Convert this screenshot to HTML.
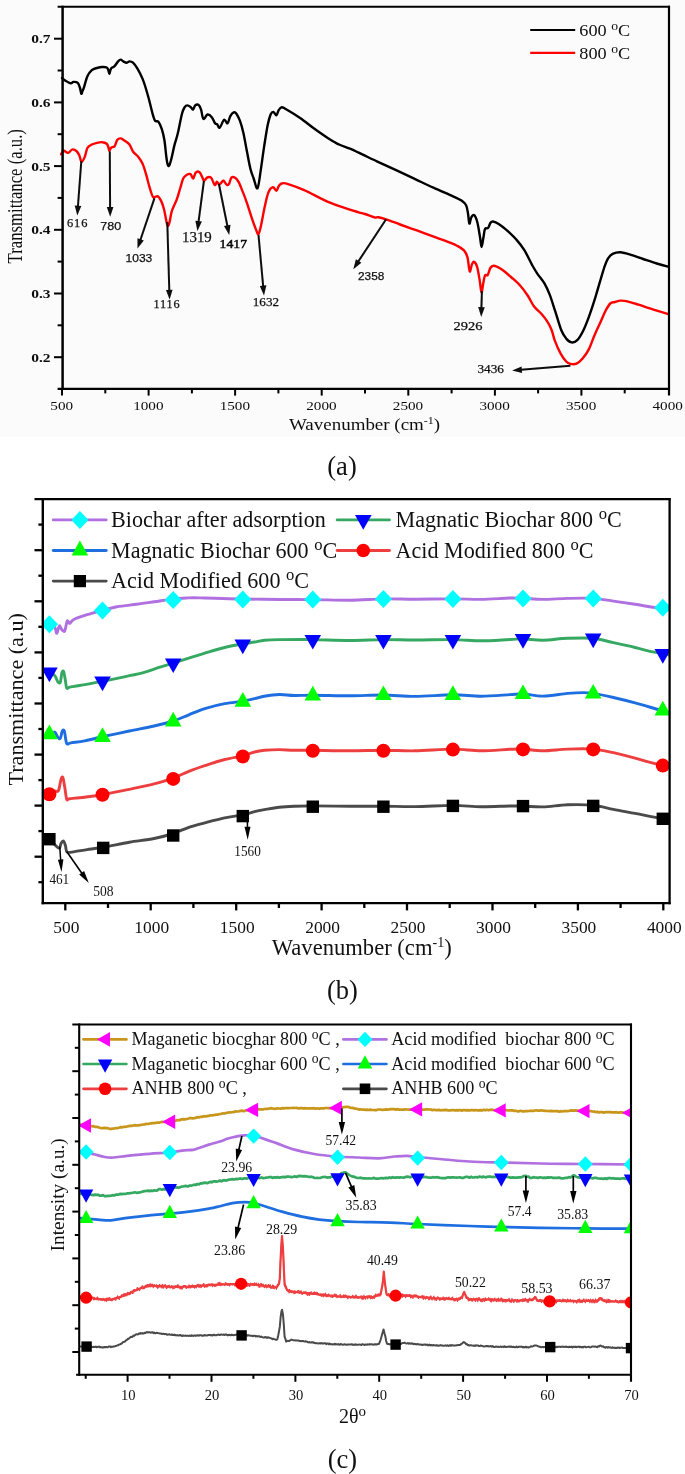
<!DOCTYPE html>
<html lang="en"><head><meta charset="utf-8"><title>FTIR and XRD spectra</title>
<style>html,body{margin:0;padding:0;background:#fff}body{width:685px;height:1474px;overflow:hidden;position:relative}svg{display:block;position:absolute;left:0;top:0}text{white-space:pre}</style>
</head><body>
<svg width="685" height="1474" viewBox="0 0 685 1474">
<rect x="0" y="0" width="685" height="1474" fill="#ffffff"/>
<g id="chart-a">
<rect x="0" y="0" width="685" height="437" fill="#fbfbfb"/>
<g filter="url(#blurA)">
<defs><filter id="blurA" x="-5%" y="-5%" width="110%" height="110%"><feGaussianBlur stdDeviation="0.42"/></filter></defs>
<path d="M62 78C62.6 78.5 64 79.8 65.5 80.7C67 81.6 69.5 83.1 70.8 83.3C72.1 83.5 72.2 82 73.4 81.9C74.6 81.8 76.7 81.9 77.8 82.9C78.9 83.9 79.4 86.2 80 88C80.6 89.8 80.9 93.3 81.3 93.8C81.7 94.3 82.1 92 82.5 91C82.9 90 83.1 90.2 83.9 87.7C84.7 85.2 86.1 79.2 87.4 76.3C88.7 73.4 90.2 71.5 91.8 70.1C93.4 68.7 95.2 68.5 97 68C98.8 67.5 100.7 67.1 102.3 67C103.9 66.9 105.7 67 106.7 67.5C107.7 68 107.9 69 108.3 70C108.7 71 109 73.6 109.3 73.7C109.6 73.8 109.9 71.5 110.3 70.5C110.7 69.5 110.7 68.7 111.4 68C112.1 67.3 113.5 67.2 114.6 66.1C115.7 65 117.1 62.5 118.1 61.4C119.1 60.3 119.8 59.6 120.7 59.6C121.6 59.6 122.3 60.9 123.3 61.4C124.3 61.9 125.5 62.8 126.5 62.8C127.5 62.8 128.4 61.4 129.5 61.4C130.6 61.4 131.7 61.4 133 62.6C134.3 63.8 135.7 65.7 137.3 68.4C138.9 71.1 140.8 74.4 142.6 78.9C144.4 83.4 146.2 89.4 147.9 95.5C149.7 101.6 151.9 111.5 153.1 115.7C154.3 120 154.3 120 155.2 121C156.1 122 157.3 120.4 158.4 121.8C159.5 123.2 160.9 126.2 161.9 129.4C162.9 132.6 163.8 136.3 164.5 140.8C165.2 145.3 165.8 152.7 166.3 156.6C166.8 160.5 167.2 163 167.7 164.5C168.2 166 168.7 166.5 169.3 165.5C169.9 164.5 170.7 161.5 171.5 158.3C172.3 155.1 173.2 150.2 174.2 146.1C175.2 142 176.4 139.2 177.7 133.8C179 128.4 180.8 118.1 182 113.7C183.2 109.3 183.8 108.6 184.7 107.2C185.6 105.8 186.3 105.4 187.3 105.4C188.3 105.4 189.8 106.5 190.8 107.2C191.8 107.9 192.4 109.9 193.1 109.6C193.8 109.3 194.3 106.2 195.2 105.4C196.1 104.6 197.7 104.2 198.7 104.9C199.7 105.6 200.2 107 201 109.3C201.8 111.6 202.3 118 203.4 118.9C204.5 119.8 206.1 114.8 207.5 114.5C208.9 114.2 210.6 115.7 211.8 117.2C213.1 118.7 214.1 122.1 215 123.3C215.9 124.5 216.3 123.5 217.1 124.2C217.9 124.9 218.5 128.4 219.7 127.7C220.9 127 222.8 120.5 224.1 119.8C225.4 119.1 226.6 123.9 227.6 123.3C228.6 122.7 229.2 118.1 230.2 116.3C231.2 114.5 232.7 112.8 233.7 112.4C234.7 112 235.4 112.3 236.4 113.7C237.4 115.1 238.7 117.5 239.9 120.7C241.1 123.9 242.2 127.8 243.4 132.9C244.6 138 245.7 145.3 246.9 151.3C248.1 157.3 249.3 164.4 250.4 168.8C251.5 173.2 252.3 174.8 253.5 178C254.7 181.2 256.3 189.5 257.5 188.3C258.7 187.1 259.6 177.6 260.7 170.6C261.8 163.6 263 153.7 264.2 146.1C265.4 138.5 266.6 130.3 267.7 125C268.8 119.7 269.7 116.7 270.6 114.5C271.6 112.3 272.4 111.8 273.4 111.9C274.4 112.1 275.5 115.7 276.4 115.4C277.3 115.1 277.8 111.5 278.7 110.1C279.6 108.7 280.5 107.3 281.7 107.2C282.9 107.1 283 107.5 286.1 109.3C289.2 111.1 295.4 114.8 300.1 118C304.8 121.2 309.4 125.1 314.1 128.5C318.8 131.9 324 135.6 328.1 138.2C332.2 140.8 335 142.6 338.6 144.3C342.2 146.1 346.6 147.3 350 148.7C353.4 150.1 354.1 150.5 358.7 152.7C363.3 154.8 371.2 158.7 377.4 161.6C383.6 164.5 389.9 167.3 396.1 170.2C402.3 173.1 408.5 176 414.7 178.9C420.9 181.8 427.2 184.9 433.4 187.7C439.6 190.5 447.4 193.8 452.1 195.9C456.8 198.1 459.2 199 461.5 200.6C463.8 202.2 465 203.2 466.1 205.3C467.2 207.4 467.4 210.4 468 213.4C468.6 216.4 468.8 222.9 469.4 223.6C469.9 224.3 470.5 218.8 471.3 217.4C472.1 216 473.3 214.3 474.3 215.2C475.3 216.1 476.6 219.4 477.5 223C478.4 226.6 479.3 233 480 237C480.7 241 481 247.1 481.6 247.1C482.2 247.1 482.9 240 483.5 237C484.1 234 484.2 230.5 485 229C485.8 227.5 487.1 229 488 228C488.9 227 489.7 223.9 490.5 222.8C491.3 221.7 491.6 221.3 493 221.5C494.4 221.7 496.6 222.6 499.1 224.2C501.6 225.8 504.9 228.6 507.8 231.2C510.7 233.8 513.8 236.7 516.6 239.9C519.4 243.1 521.9 246.2 524.5 250.4C527.1 254.6 530.1 261.4 532.3 265.3C534.5 269.2 535.5 271 537.6 274.1C539.7 277.2 542.6 280.2 544.6 283.7C546.6 287.2 548.1 290.6 549.9 295.1C551.6 299.6 553.2 305.1 555.1 310.9C557 316.7 559.4 325.4 561.2 330C563.1 334.6 564.5 336.5 566.2 338.6C568 340.7 569.8 342.2 571.7 342.4C573.6 342.6 575.6 341.8 577.5 339.8C579.4 337.9 581.3 334.5 583.2 330.7C585.1 326.9 586.9 322.2 588.8 317.1C590.7 312 592.6 306.2 594.5 300.2C596.4 294.2 598.5 286.6 600.2 280.9C601.9 275.2 603.4 270 604.7 266.2C606 262.4 606.8 260.4 608.1 258.3C609.4 256.2 610.5 254.8 612.6 253.8C614.7 252.8 617.7 252.1 620.5 252.2C623.3 252.3 625.8 253.3 629.6 254.4C633.4 255.5 638.6 257.5 643.1 259C647.6 260.5 652.6 262.2 656.7 263.5C660.9 264.8 666.1 266.2 668 266.7" fill="none" stroke="#050505" stroke-width="2.4" stroke-linejoin="round" stroke-linecap="round" />
<path d="M61.1 154.2C61.5 153.6 62.6 150.9 63.8 150.7C65 150.5 66.6 153.1 68.1 152.9C69.5 152.7 71 149.6 72.5 149.4C74 149.2 75.7 150.4 76.9 151.5C78.1 152.6 78.7 154.2 79.5 155.9C80.3 157.7 80.7 161.8 81.6 162C82.5 162.2 83.8 159.1 84.8 156.8C85.8 154.5 86.2 150.1 87.4 148C88.6 145.9 90.2 145.4 91.8 144.5C93.4 143.6 95.2 143.2 97 142.8C98.8 142.4 100.7 142 102.3 142.2C103.9 142.3 105.7 142.9 106.7 143.7C107.7 144.5 107.9 145.8 108.3 147C108.7 148.2 108.9 150.4 109.3 150.7C109.7 150.9 110.1 149.1 110.5 148.5C110.9 147.9 111.2 147.6 111.9 147.2C112.6 146.8 113.7 147.5 114.6 146.3C115.5 145.1 116.2 141.4 117.2 140.1C118.2 138.8 119.4 138.2 120.7 138.4C122 138.6 123.6 140 125.1 141C126.6 142 128.2 142.8 129.5 144.5C130.8 146.2 131.6 149.4 133 151.5C134.4 153.6 136.6 154.8 138.2 156.8C139.8 158.9 141.3 160.9 142.6 163.8C143.9 166.7 144.9 170.4 146.1 174.3C147.3 178.2 148.4 183.6 149.6 187.4C150.8 191.2 151.8 195.6 153.1 197.1C154.4 198.6 156.2 195.6 157.5 196.2C158.8 196.8 159.9 198.4 161 200.6C162.1 202.8 163.1 206 164 209.3C164.9 212.7 165.7 217.9 166.3 220.7C166.9 223.4 167.3 225.5 167.8 225.8C168.3 226.1 168.8 224.9 169.5 222.4C170.2 219.9 170.6 214.9 171.8 211.1C173 207.3 175.3 203.4 176.7 199.6C178.1 195.8 179.2 191.5 180.3 188C181.4 184.5 182.1 180.7 183.2 178.5C184.3 176.3 185.7 175.5 186.9 174.8C188.1 174.1 189.4 173.5 190.5 174.1C191.6 174.7 192.3 178.8 193.2 178.5C194.1 178.2 194.7 173.7 195.7 172.6C196.7 171.5 198.2 171.2 199.3 171.9C200.4 172.6 201.4 175.5 202.2 177C203 178.5 203.2 180.6 204.1 180.7C204.9 180.8 206.2 177.9 207.3 177.4C208.5 176.9 209.9 176.7 211 177.7C212.1 178.7 213.2 182.4 213.9 183.6C214.6 184.8 214.9 185.3 215.4 185C215.9 184.7 216.2 181.9 216.8 181.8C217.4 181.7 218.3 184.1 219 184.3C219.7 184.5 220.5 183.4 221.2 182.8C221.9 182.2 222.4 180.3 223.4 180.7C224.4 181.1 226 184.5 227 185C228 185.5 228.5 184.8 229.2 183.6C229.9 182.4 230.4 178.7 231.4 177.7C232.4 176.7 233.9 177 235.1 177.7C236.3 178.4 237.5 179.9 238.7 182.1C239.9 184.3 241.1 187.5 242.4 190.9C243.8 194.3 245.3 198.2 246.8 202.6C248.3 207 250 212.7 251.5 217.2C253 221.7 254.8 226.8 256 229.6C257.2 232.4 257.6 234.9 258.5 234.1C259.4 233.3 260.2 229.2 261.2 224.7C262.2 220.2 263.4 212.7 264.6 207.3C265.8 201.9 267 195.8 268.4 192.4C269.8 189.1 271.6 187.5 272.9 187.2C274.2 186.9 275.4 191 276.4 190.7C277.4 190.4 278.1 186.8 279.1 185.5C280.1 184.2 280.9 183.3 282.6 183.2C284.4 183 286.1 183.5 289.6 184.6C293.1 185.7 298.4 187.6 303.6 189.9C308.9 192.2 316.7 196.5 321.1 198.6C325.5 200.7 325.6 200.9 330 202.6C334.4 204.3 342.7 207.2 347.5 208.8C352.3 210.4 355.8 211.4 358.7 212.3C361.6 213.2 362.3 213.1 365 214C367.7 214.9 372.5 217 374.7 217.5C376.9 218 376.3 216.9 378.2 217.2C380.1 217.5 382.5 218.1 386.1 219.3C389.8 220.5 394.9 222.6 400.1 224.5C405.4 226.4 411.8 228.6 417.6 230.7C423.4 232.8 429.7 235.1 435.1 237.1C440.5 239.1 446.4 241.2 450 242.6C453.6 244 454.7 244.4 457 245.7C459.3 247 462.2 248.5 464 250.4C465.8 252.3 466.7 254.6 467.5 257.4C468.3 260.2 468.5 264.8 468.9 267.1C469.3 269.5 469.6 271.9 470.1 271.5C470.6 271.1 471.2 266.1 471.9 264.5C472.6 262.9 473.3 261.4 474.2 261.8C475.1 262.2 476.3 263.9 477.2 267.1C478.1 270.3 479.1 276.9 479.8 281.1C480.5 285.3 480.9 292.2 481.5 292.5C482.1 292.8 482.7 285.7 483.3 282.9C483.9 280.1 484.3 276.8 485 275.5C485.7 274.2 486.8 276.2 487.7 275C488.6 273.8 489.3 269.6 490.3 268C491.3 266.4 492.1 265.6 493.8 265.7C495.6 265.8 498.2 267.1 500.8 268.8C503.4 270.5 506.4 273 509.6 275.8C512.8 278.6 517 282.1 520.1 285.5C523.2 288.9 525.7 292.5 528 296C530.3 299.5 531.9 303.6 534.1 306.5C536.3 309.4 538.9 311 541.1 313.5C543.3 316 545.5 318.6 547.2 321.4C549 324.1 550.3 326.8 551.6 330C552.9 333.2 553.4 337 554.9 340.9C556.4 344.8 558.6 349.9 560.5 353.3C562.4 356.7 564.6 359.7 566.2 361.5C567.9 363.3 568.7 363.5 570.4 363.9C572.1 364.3 574.5 364.6 576.5 363.7C578.5 362.8 580.6 361 582.6 358.6C584.6 356.2 586.8 353.3 588.8 349.4C590.8 345.5 592.6 339.6 594.5 335.2C596.4 330.8 598.3 326.9 600.2 322.8C602.1 318.7 604.1 313.5 605.8 310.3C607.5 307.1 608.8 304.9 610.3 303.5C611.8 302.1 613.2 302.5 614.9 302C616.6 301.5 618.4 300.7 620.5 300.6C622.6 300.5 624.3 300.6 627.3 301.3C630.3 302 634.5 303.4 638.6 304.7C642.8 306 647.3 307.6 652.2 309.2C657.1 310.8 665.4 313.2 668 314" fill="none" stroke="#ff0000" stroke-width="2.4" stroke-linejoin="round" stroke-linecap="round" />
<line x1="81.3" y1="161.2" x2="77.9" y2="206.8" stroke="#0a0a0a" stroke-width="2.0" stroke-linecap="butt"/>
<polygon points="77.3,215.6 74.7,205.6 81.3,206.1" fill="#0a0a0a"/>
<line x1="109.8" y1="151.5" x2="110.1" y2="208" stroke="#0a0a0a" stroke-width="2.0" stroke-linecap="butt"/>
<polygon points="110.2,216.8 106.8,207 113.4,207" fill="#0a0a0a"/>
<line x1="154.4" y1="198.4" x2="140.3" y2="240.3" stroke="#0a0a0a" stroke-width="2.0" stroke-linecap="butt"/>
<polygon points="137.5,248.6 137.5,238.3 143.8,240.4" fill="#0a0a0a"/>
<line x1="167.3" y1="222" x2="169.3" y2="290.8" stroke="#0a0a0a" stroke-width="2.0" stroke-linecap="butt"/>
<polygon points="169.6,299.6 166,289.9 172.6,289.7" fill="#0a0a0a"/>
<line x1="203.9" y1="181" x2="198.5" y2="222.2" stroke="#0a0a0a" stroke-width="2.0" stroke-linecap="butt"/>
<polygon points="197.4,230.9 195.4,220.8 201.9,221.6" fill="#0a0a0a"/>
<line x1="218.9" y1="184" x2="227.5" y2="226.5" stroke="#0a0a0a" stroke-width="2.0" stroke-linecap="butt"/>
<polygon points="229.2,235.1 224,226.1 230.5,224.8" fill="#0a0a0a"/>
<line x1="258.5" y1="235" x2="263.2" y2="286.6" stroke="#0a0a0a" stroke-width="2.0" stroke-linecap="butt"/>
<polygon points="264,295.4 259.8,285.9 266.4,285.3" fill="#0a0a0a"/>
<line x1="386.1" y1="219.3" x2="358.1" y2="261.8" stroke="#0a0a0a" stroke-width="2.0" stroke-linecap="butt"/>
<polygon points="353.3,269.2 355.9,259.2 361.4,262.8" fill="#0a0a0a"/>
<line x1="481.9" y1="291" x2="481.4" y2="308.2" stroke="#0a0a0a" stroke-width="2.0" stroke-linecap="butt"/>
<polygon points="481.2,317 478.2,307.1 484.8,307.3" fill="#0a0a0a"/>
<line x1="570.4" y1="365.8" x2="520.9" y2="369.8" stroke="#0a0a0a" stroke-width="2.0" stroke-linecap="butt"/>
<polygon points="512.1,370.5 521.6,366.4 522.1,373" fill="#0a0a0a"/>
<line x1="57.6" y1="6.7" x2="670" y2="6.7" stroke="#000" stroke-width="2.1" stroke-linecap="butt"/>
<line x1="57.6" y1="388.9" x2="670" y2="388.9" stroke="#000" stroke-width="2.1" stroke-linecap="butt"/>
<line x1="62.6" y1="5.7" x2="62.6" y2="389.9" stroke="#000" stroke-width="2.5" stroke-linecap="butt"/>
<line x1="669" y1="5.7" x2="669" y2="395.6" stroke="#000" stroke-width="2.2" stroke-linecap="butt"/>
<line x1="54" y1="38.7" x2="62.6" y2="38.7" stroke="#000" stroke-width="2.0" stroke-linecap="butt"/>
<text transform="translate(50.5 43.1) scale(1.18 1)" font-family='"Liberation Serif", serif' font-size="13.1" font-weight="bold" text-anchor="end" fill="#111" >0.7</text>
<line x1="54" y1="102.4" x2="62.6" y2="102.4" stroke="#000" stroke-width="2.0" stroke-linecap="butt"/>
<text transform="translate(50.5 106.8) scale(1.18 1)" font-family='"Liberation Serif", serif' font-size="13.1" font-weight="bold" text-anchor="end" fill="#111" >0.6</text>
<line x1="54" y1="166.1" x2="62.6" y2="166.1" stroke="#000" stroke-width="2.0" stroke-linecap="butt"/>
<text transform="translate(50.5 170.5) scale(1.18 1)" font-family='"Liberation Serif", serif' font-size="13.1" font-weight="bold" text-anchor="end" fill="#111" >0.5</text>
<line x1="54" y1="229.8" x2="62.6" y2="229.8" stroke="#000" stroke-width="2.0" stroke-linecap="butt"/>
<text transform="translate(50.5 234.2) scale(1.18 1)" font-family='"Liberation Serif", serif' font-size="13.1" font-weight="bold" text-anchor="end" fill="#111" >0.4</text>
<line x1="54" y1="293.5" x2="62.6" y2="293.5" stroke="#000" stroke-width="2.0" stroke-linecap="butt"/>
<text transform="translate(50.5 297.9) scale(1.18 1)" font-family='"Liberation Serif", serif' font-size="13.1" font-weight="bold" text-anchor="end" fill="#111" >0.3</text>
<line x1="54" y1="357.2" x2="62.6" y2="357.2" stroke="#000" stroke-width="2.0" stroke-linecap="butt"/>
<text transform="translate(50.5 361.6) scale(1.18 1)" font-family='"Liberation Serif", serif' font-size="13.1" font-weight="bold" text-anchor="end" fill="#111" >0.2</text>
<line x1="57.6" y1="70.5" x2="62.6" y2="70.5" stroke="#000" stroke-width="2.0" stroke-linecap="butt"/>
<line x1="57.6" y1="134.2" x2="62.6" y2="134.2" stroke="#000" stroke-width="2.0" stroke-linecap="butt"/>
<line x1="57.6" y1="197.9" x2="62.6" y2="197.9" stroke="#000" stroke-width="2.0" stroke-linecap="butt"/>
<line x1="57.6" y1="261.6" x2="62.6" y2="261.6" stroke="#000" stroke-width="2.0" stroke-linecap="butt"/>
<line x1="57.6" y1="325.3" x2="62.6" y2="325.3" stroke="#000" stroke-width="2.0" stroke-linecap="butt"/>
<line x1="62" y1="388.9" x2="62" y2="395.6" stroke="#000" stroke-width="2.0" stroke-linecap="butt"/>
<text transform="translate(61.7 410.4) scale(1.15 1)" font-family='"Liberation Serif", serif' font-size="13.2" font-weight="normal" text-anchor="middle" fill="#111" >500</text>
<line x1="148.6" y1="388.9" x2="148.6" y2="395.6" stroke="#000" stroke-width="2.0" stroke-linecap="butt"/>
<text transform="translate(148.3 410.4) scale(1.15 1)" font-family='"Liberation Serif", serif' font-size="13.2" font-weight="normal" text-anchor="middle" fill="#111" >1000</text>
<line x1="235.1" y1="388.9" x2="235.1" y2="395.6" stroke="#000" stroke-width="2.0" stroke-linecap="butt"/>
<text transform="translate(234.8 410.4) scale(1.15 1)" font-family='"Liberation Serif", serif' font-size="13.2" font-weight="normal" text-anchor="middle" fill="#111" >1500</text>
<line x1="321.7" y1="388.9" x2="321.7" y2="395.6" stroke="#000" stroke-width="2.0" stroke-linecap="butt"/>
<text transform="translate(321.4 410.4) scale(1.15 1)" font-family='"Liberation Serif", serif' font-size="13.2" font-weight="normal" text-anchor="middle" fill="#111" >2000</text>
<line x1="408.3" y1="388.9" x2="408.3" y2="395.6" stroke="#000" stroke-width="2.0" stroke-linecap="butt"/>
<text transform="translate(408 410.4) scale(1.15 1)" font-family='"Liberation Serif", serif' font-size="13.2" font-weight="normal" text-anchor="middle" fill="#111" >2500</text>
<line x1="494.9" y1="388.9" x2="494.9" y2="395.6" stroke="#000" stroke-width="2.0" stroke-linecap="butt"/>
<text transform="translate(494.6 410.4) scale(1.15 1)" font-family='"Liberation Serif", serif' font-size="13.2" font-weight="normal" text-anchor="middle" fill="#111" >3000</text>
<line x1="581.4" y1="388.9" x2="581.4" y2="395.6" stroke="#000" stroke-width="2.0" stroke-linecap="butt"/>
<text transform="translate(581.1 410.4) scale(1.15 1)" font-family='"Liberation Serif", serif' font-size="13.2" font-weight="normal" text-anchor="middle" fill="#111" >3500</text>
<text transform="translate(667.7 410.4) scale(1.15 1)" font-family='"Liberation Serif", serif' font-size="13.2" font-weight="normal" text-anchor="middle" fill="#111" >4000</text>
<line x1="105.3" y1="388.9" x2="105.3" y2="393.4" stroke="#000" stroke-width="2.0" stroke-linecap="butt"/>
<line x1="191.9" y1="388.9" x2="191.9" y2="393.4" stroke="#000" stroke-width="2.0" stroke-linecap="butt"/>
<line x1="278.4" y1="388.9" x2="278.4" y2="393.4" stroke="#000" stroke-width="2.0" stroke-linecap="butt"/>
<line x1="365" y1="388.9" x2="365" y2="393.4" stroke="#000" stroke-width="2.0" stroke-linecap="butt"/>
<line x1="451.6" y1="388.9" x2="451.6" y2="393.4" stroke="#000" stroke-width="2.0" stroke-linecap="butt"/>
<line x1="538.1" y1="388.9" x2="538.1" y2="393.4" stroke="#000" stroke-width="2.0" stroke-linecap="butt"/>
<line x1="624.7" y1="388.9" x2="624.7" y2="393.4" stroke="#000" stroke-width="2.0" stroke-linecap="butt"/>
<text transform="translate(22.2 263.4) scale(1.2 1) rotate(-90)" font-family='"Liberation Serif", serif' font-size="16.7" font-weight="normal" text-anchor="start" fill="#111" >Transmittance (a.u.)</text>
<text transform="translate(289 429.5)" font-family='"Liberation Serif", serif' font-size="16.8" font-weight="normal" text-anchor="start" fill="#111" textLength="151" lengthAdjust="spacingAndGlyphs" >Wavenumber (cm<tspan dy="-5.5" font-size="10.5">-1</tspan><tspan dy="5.5">)</tspan></text>
<line x1="530.2" y1="30" x2="575.2" y2="30" stroke="#000" stroke-width="2.2" stroke-linecap="butt"/>
<line x1="530.2" y1="52.9" x2="575.2" y2="52.9" stroke="#ff0000" stroke-width="2.2" stroke-linecap="butt"/>
<text transform="translate(579.3 36.2)" font-family='"Liberation Serif", serif' font-size="16.8" font-weight="normal" text-anchor="start" fill="#111" textLength="51" lengthAdjust="spacingAndGlyphs" >600 <tspan dy="-5.9" font-size="12.6">o</tspan><tspan dy="5.9">C</tspan></text>
<text transform="translate(579.3 59)" font-family='"Liberation Serif", serif' font-size="16.8" font-weight="normal" text-anchor="start" fill="#111" textLength="51" lengthAdjust="spacingAndGlyphs" >800 <tspan dy="-5.9" font-size="12.6">o</tspan><tspan dy="5.9">C</tspan></text>
<text transform="translate(66.9 227.2)" font-family='"Liberation Serif", serif' font-size="12.4" font-weight="normal" text-anchor="start" fill="#111" textLength="20.5" lengthAdjust="spacing" stroke="#111" stroke-width="0.25">616</text>
<text transform="translate(100.2 230.4)" font-family='"Liberation Sans", sans-serif' font-size="11.4" font-weight="normal" text-anchor="start" fill="#111" textLength="21" lengthAdjust="spacingAndGlyphs" stroke="#111" stroke-width="0.25">780</text>
<text transform="translate(125.5 261.9)" font-family='"Liberation Sans", sans-serif' font-size="11.4" font-weight="normal" text-anchor="start" fill="#111" textLength="26.8" lengthAdjust="spacingAndGlyphs" stroke="#111" stroke-width="0.25">1033</text>
<text transform="translate(153.5 307.8)" font-family='"Liberation Serif", serif' font-size="12.2" font-weight="normal" text-anchor="start" fill="#111" textLength="26.1" lengthAdjust="spacing" stroke="#111" stroke-width="0.25">1116</text>
<text transform="translate(182 242.2)" font-family='"Liberation Serif", serif' font-size="14.2" font-weight="normal" text-anchor="start" fill="#111" textLength="29.8" lengthAdjust="spacingAndGlyphs" stroke="#111" stroke-width="0.25">1319</text>
<text transform="translate(219.6 248.3)" font-family='"Liberation Serif", serif' font-size="12.8" font-weight="normal" text-anchor="start" fill="#111" textLength="27.4" lengthAdjust="spacingAndGlyphs" stroke="#111" stroke-width="0.55">1417</text>
<text transform="translate(252.8 306.2)" font-family='"Liberation Serif", serif' font-size="13" font-weight="normal" text-anchor="start" fill="#111" textLength="26.2" lengthAdjust="spacingAndGlyphs" stroke="#111" stroke-width="0.25">1632</text>
<text transform="translate(358 280.2)" font-family='"Liberation Sans", sans-serif' font-size="11.2" font-weight="normal" text-anchor="start" fill="#111" textLength="26.3" lengthAdjust="spacingAndGlyphs" stroke="#111" stroke-width="0.25">2358</text>
<text transform="translate(453.5 330.2)" font-family='"Liberation Serif", serif' font-size="12" font-weight="normal" text-anchor="start" fill="#111" textLength="28.9" lengthAdjust="spacingAndGlyphs" stroke="#111" stroke-width="0.25">2926</text>
<text transform="translate(477.4 373.3)" font-family='"Liberation Serif", serif' font-size="12" font-weight="normal" text-anchor="start" fill="#111" textLength="26.5" lengthAdjust="spacingAndGlyphs" stroke="#111" stroke-width="0.25">3436</text>
</g>
<text transform="translate(342 475.3)" font-family='"Liberation Serif", serif' font-size="26.5" font-weight="normal" text-anchor="middle" fill="#111" >(a)</text>
</g>
<g id="chart-b">
<defs><clipPath id="clipB"><rect x="42.8" y="499.1" width="626.8" height="403.9"/></clipPath></defs>
<g clip-path="url(#clipB)">
<path d="M49.4 839.2C50.3 840.1 53.1 843.2 54.8 844.7C56.4 846.2 58.3 848.6 59.3 848.4C60.3 848.2 60.3 844.6 61 843.4C61.7 842.2 62.8 840.6 63.5 841C64.2 841.4 64.9 844 65.5 845.9C66.1 847.8 65.7 851.1 67.2 852.1C68.7 853.1 71.4 852 74.7 851.6C78 851.2 82.3 850.3 87.1 849.6C91.8 848.9 96.2 848.4 103.2 847.2C110.2 846 120.8 843.7 129.3 842.2C137.8 840.8 146.8 840 154.1 838.5C161.4 837 167.4 835.4 173.2 833.5C179 831.6 183.5 829.1 188.8 827.3C194.1 825.5 198.8 824.4 204.8 822.8C210.8 821.2 218.4 819.1 224.7 817.8C231 816.5 237.8 815.8 242.8 814.8C247.8 813.8 250.9 812.5 254.5 811.6C258.1 810.7 260.3 810.3 264.4 809.6C268.5 808.9 274.3 807.8 279.3 807.2C284.3 806.6 288.6 806.4 294.2 806.2C299.8 806 303.5 805.9 312.8 805.9C322.1 805.9 338.2 806.2 350 806.2C361.8 806.2 372.6 806.1 383.4 806.2C394.2 806.3 403.4 806.7 415 806.6C426.6 806.5 441.9 805.4 452.9 805.4C463.9 805.4 471.5 806.6 481 806.7C490.5 806.8 503 806.1 510 806C517 805.9 517.5 806 523 806.1C528.5 806.2 535.6 807.1 543 806.9C550.4 806.7 559.1 805.1 567.5 804.8C575.9 804.5 585.6 804.5 593.2 805.3C600.9 806.1 606.4 808 613.4 809.4C620.4 810.8 628.7 812.2 635 813.4C641.3 814.6 646.6 815.8 651.2 816.7C655.8 817.6 659.8 818.2 662.8 818.8C665.8 819.3 668 819.8 669 820" fill="none" stroke="#4a4a4a" stroke-width="2.9" stroke-linejoin="round" stroke-linecap="round" />
<rect x="43.2" y="833" width="12.4" height="12.4" fill="#000"/>
<rect x="97" y="841.7" width="12.4" height="12.4" fill="#000"/>
<rect x="167" y="829.3" width="12.4" height="12.4" fill="#000"/>
<rect x="236.6" y="809.9" width="12.4" height="12.4" fill="#000"/>
<rect x="306.6" y="800.5" width="12.4" height="12.4" fill="#000"/>
<rect x="377.2" y="800.5" width="12.4" height="12.4" fill="#000"/>
<rect x="446.7" y="799.7" width="12.4" height="12.4" fill="#000"/>
<rect x="516.8" y="799.9" width="12.4" height="12.4" fill="#000"/>
<rect x="587" y="799.7" width="12.4" height="12.4" fill="#000"/>
<rect x="656.6" y="812.6" width="12.4" height="12.4" fill="#000"/>
<path d="M49.4 794.2C50.3 793.7 53.3 791.9 54.8 791.3C56.3 790.7 57.5 792.5 58.5 790.5C59.5 788.5 60.3 781.6 61 779.4C61.7 777.2 62.2 776.2 62.8 777.4C63.4 778.6 64 783.2 64.7 786.8C65.4 790.4 65.9 797.2 66.7 799.2C67.5 801.2 66.7 799 69.7 798.7C72.7 798.4 79.1 797.9 84.6 797.2C90.1 796.5 95 796 102.5 794.7C110 793.4 120.7 791.1 129.3 789.3C137.9 787.5 146.8 785.7 154.1 783.8C161.4 781.9 167.4 780.2 173.2 778.1C179 776 183.5 773.5 188.8 771.4C194.1 769.3 198.8 767.7 204.8 765.7C210.8 763.7 218.4 761.1 224.7 759.5C231 757.9 237.8 757 242.8 755.8C247.8 754.5 250.9 752.9 254.5 752C258.1 751.1 260.3 750.7 264.4 750.3C268.5 749.9 274.3 749.6 279.3 749.6C284.3 749.6 288.6 750.2 294.2 750.3C299.8 750.4 303.5 750.2 312.8 750.3C322.1 750.4 338.2 750.8 350 750.8C361.8 750.8 372.6 750.3 383.4 750.3C394.2 750.3 403.4 751 415 750.8C426.6 750.6 441.9 749.1 452.9 749.1C463.9 749.1 471.5 750.8 481 750.8C490.5 750.8 503 749.6 510 749.3C517 749 517.5 748.9 523 749.1C528.5 749.4 535.6 750.8 543 750.8C550.4 750.8 559.1 749.4 567.5 749.1C575.9 748.8 585.6 748.5 593.2 749.1C600.9 749.7 606.4 751.2 613.4 752.7C620.4 754.2 628.7 756.4 635 758.1C641.3 759.8 646.6 761.5 651.2 762.7C655.8 763.9 659.8 764.7 662.8 765.4C665.8 766.1 668 766.7 669 767" fill="none" stroke="#ee3f40" stroke-width="2.9" stroke-linejoin="round" stroke-linecap="round" />
<circle cx="49.4" cy="794.2" r="7" fill="#ff0000"/>
<circle cx="102.5" cy="794.7" r="7" fill="#ff0000"/>
<circle cx="173.2" cy="778.9" r="7" fill="#ff0000"/>
<circle cx="242.8" cy="756.5" r="7" fill="#ff0000"/>
<circle cx="312.8" cy="750.8" r="7" fill="#ff0000"/>
<circle cx="383.4" cy="750.8" r="7" fill="#ff0000"/>
<circle cx="452.9" cy="749.6" r="7" fill="#ff0000"/>
<circle cx="523" cy="749.4" r="7" fill="#ff0000"/>
<circle cx="593.2" cy="749.4" r="7" fill="#ff0000"/>
<circle cx="662.8" cy="765.6" r="7" fill="#ff0000"/>
<path d="M49.4 734C50.3 733.7 53.4 731.7 54.8 732.2C56.2 732.7 56.9 736.2 57.8 737.2C58.7 738.2 59.5 739.4 60.3 738.4C61 737.4 61.6 732.2 62.3 731C63 729.8 63.7 729.4 64.3 731C64.9 732.6 65.5 738.7 66 740.9C66.5 743.1 66.4 743.8 67.2 744.1C68 744.4 68.1 743.4 71 742.9C73.9 742.4 79.3 741.9 84.6 740.9C89.8 739.9 95 738.4 102.5 736.7C110 735.1 120.7 732.8 129.3 731C137.9 729.2 146.8 727.7 154.1 726C161.4 724.3 167.4 722.9 173.2 721C179 719.1 183.5 716.9 188.8 714.8C194.1 712.7 198.8 710.5 204.8 708.6C210.8 706.8 218.4 704.9 224.7 703.7C231 702.5 237.8 702 242.8 701.2C247.8 700.4 250.9 699.5 254.5 698.7C258.1 697.9 260.3 696.9 264.4 696.2C268.5 695.5 274.3 694.6 279.3 694.5C284.3 694.4 288.6 695.4 294.2 695.5C299.8 695.6 303.5 695.2 312.8 695.2C322.1 695.2 338.2 695.8 350 695.8C361.8 695.8 372.6 694.9 383.4 695C394.2 695.1 403.4 696.4 415 696.4C426.6 696.4 441.9 694.8 452.9 694.8C463.9 694.8 471.5 696.2 481 696.2C490.5 696.2 503 695 510 694.6C517 694.2 517.5 693.8 523 694C528.5 694.2 535.6 696.2 543 696.1C550.4 696 560.7 694 567.5 693.4C574.3 692.8 579.4 692.6 583.7 692.6C588 692.6 588.2 692.6 593.2 693.4C598.2 694.2 606.4 695.9 613.4 697.5C620.4 699.1 628.7 701.2 635 702.9C641.3 704.6 646.6 706.1 651.2 707.5C655.8 708.9 659.8 710.1 662.8 711C665.8 711.9 668 712.7 669 713" fill="none" stroke="#1e6ee0" stroke-width="2.9" stroke-linejoin="round" stroke-linecap="round" />
<polygon points="49.4,724.6 57.7,739.2 41.1,739.2" fill="#00ff00"/>
<polygon points="102.5,727.3 110.8,741.9 94.2,741.9" fill="#00ff00"/>
<polygon points="173.2,711.8 181.5,726.4 164.9,726.4" fill="#00ff00"/>
<polygon points="242.8,692.1 251.1,706.7 234.5,706.7" fill="#00ff00"/>
<polygon points="312.8,685.8 321.1,700.4 304.5,700.4" fill="#00ff00"/>
<polygon points="383.4,685.5 391.7,700.1 375.1,700.1" fill="#00ff00"/>
<polygon points="452.9,685.3 461.2,699.9 444.6,699.9" fill="#00ff00"/>
<polygon points="523,684.5 531.3,699.1 514.7,699.1" fill="#00ff00"/>
<polygon points="593.2,683.9 601.5,698.5 584.9,698.5" fill="#00ff00"/>
<polygon points="662.8,700.8 671.1,715.4 654.5,715.4" fill="#00ff00"/>
<path d="M49.4 672C50.3 672.6 53.4 674 54.8 675.6C56.2 677.2 56.9 680.7 57.8 681.8C58.7 682.9 59.6 683.8 60.3 682.3C61 680.8 61.3 674.9 61.8 673.1C62.3 671.3 62.9 670.3 63.5 671.3C64.1 672.3 64.7 676.5 65.2 679.3C65.7 682.1 66 686.7 66.7 688C67.5 689.3 67.6 687.6 69.7 687.2C71.8 686.8 74.1 686.5 79.6 685.5C85.1 684.5 95 682.8 102.5 681.3C110 679.8 117.3 678.3 124.3 676.8C131.2 675.3 138.4 673.9 144.2 672.3C150 670.7 154.3 668.9 159.1 667.4C163.9 665.9 168.2 664.6 173.2 663.1C178.1 661.6 183.5 659.9 188.8 658.2C194.1 656.6 198.8 655 204.8 653.2C210.8 651.4 218.4 649 224.7 647.5C231 646 237.8 644.9 242.8 644C247.8 643.1 250.9 642.6 254.5 642C258.1 641.4 260.3 640.7 264.4 640.3C268.5 639.9 271.2 639.7 279.3 639.6C287.4 639.5 301 639.5 312.8 639.6C324.6 639.8 338.2 640.5 350 640.5C361.8 640.5 372.6 639.7 383.4 639.6C394.2 639.5 403.4 640 415 640C426.6 640 441.9 639.5 452.9 639.6C463.9 639.7 471.5 640.8 481 640.8C490.5 640.8 503 639.8 510 639.5C517 639.2 517.5 638.8 523 638.9C528.5 639 535.6 640.3 543 640.2C550.4 640.1 559.1 638.6 567.5 638.3C575.9 638 585.6 637.6 593.2 638.3C600.9 639 606.4 641.2 613.4 642.7C620.4 644.2 628.7 646 635 647.5C641.3 649 646.6 650.6 651.2 651.6C655.8 652.6 659.8 652.9 662.8 653.5C665.8 654.1 668 654.8 669 655" fill="none" stroke="#35a862" stroke-width="2.9" stroke-linejoin="round" stroke-linecap="round" />
<polygon points="49.4,682.2 57.7,667.6 41.1,667.6" fill="#0000ff"/>
<polygon points="102.5,691.2 110.8,676.6 94.2,676.6" fill="#0000ff"/>
<polygon points="173.2,673 181.5,658.4 164.9,658.4" fill="#0000ff"/>
<polygon points="242.8,654.2 251.1,639.6 234.5,639.6" fill="#0000ff"/>
<polygon points="312.8,649.6 321.1,635 304.5,635" fill="#0000ff"/>
<polygon points="383.4,649.5 391.7,634.9 375.1,634.9" fill="#0000ff"/>
<polygon points="452.9,649.5 461.2,634.9 444.6,634.9" fill="#0000ff"/>
<polygon points="523,648.7 531.3,634.1 514.7,634.1" fill="#0000ff"/>
<polygon points="593.2,648.2 601.5,633.6 584.9,633.6" fill="#0000ff"/>
<polygon points="662.8,663.7 671.1,649.1 654.5,649.1" fill="#0000ff"/>
<path d="M49.4 624.2C50.3 624.7 53.6 625.7 54.8 627.2C56 628.7 56 633.6 56.8 633.4C57.5 633.2 58.5 626.5 59.3 625.9C60.1 625.3 60.9 628.8 61.8 629.6C62.7 630.4 63.8 632.3 64.7 630.9C65.6 629.5 66.4 622.2 67.2 621C68 619.8 68.7 623.6 69.7 623.4C70.7 623.2 70.5 621.2 73.4 619.7C76.3 618.2 82.2 616.2 87.1 614.7C91.9 613.2 97.5 611.8 102.5 610.5C107.5 609.2 111.2 607.8 116.9 606.8C122.6 605.8 130.5 605.1 136.7 604.3C142.9 603.5 148 602.7 154.1 601.8C160.2 600.9 167.4 599.5 173.2 598.9C179 598.2 184.3 598.1 188.8 597.9C193.3 597.7 195.6 597.8 200 597.9C204.4 598 207.9 598 215 598.2C222.1 598.4 232 598.8 242.8 599C253.6 599.2 268.3 599.4 280 599.5C291.7 599.6 301.1 599.5 312.8 599.6C324.5 599.7 338.2 600.3 350 600.2C361.8 600.1 372.6 599.1 383.4 598.9C394.2 598.7 403.4 599.2 415 599.2C426.6 599.2 441.9 598.9 452.9 598.9C463.9 598.9 471.5 599.5 481 599.4C490.5 599.2 503 598.2 510 598C517 597.8 517.5 598.2 523 598.4C528.5 598.6 535.6 599.4 543 599.4C550.4 599.4 559.1 598.6 567.5 598.4C575.9 598.2 585.6 597.9 593.2 598.4C600.9 598.9 606.4 600.1 613.4 601.1C620.4 602.1 628.7 603.3 635 604.3C641.3 605.3 646.6 606.3 651.2 607C655.8 607.7 659.8 608 662.8 608.4C665.8 608.8 668 609.3 669 609.5" fill="none" stroke="#b070e0" stroke-width="2.9" stroke-linejoin="round" stroke-linecap="round" />
<polygon points="49.4,615.2 58,624.2 49.4,633.2 40.8,624.2" fill="#00ffff"/>
<polygon points="102.5,601.5 111.1,610.5 102.5,619.5 93.9,610.5" fill="#00ffff"/>
<polygon points="173.2,590.9 181.8,599.9 173.2,608.9 164.6,599.9" fill="#00ffff"/>
<polygon points="242.8,590.4 251.4,599.4 242.8,608.4 234.2,599.4" fill="#00ffff"/>
<polygon points="312.8,590.4 321.4,599.4 312.8,608.4 304.2,599.4" fill="#00ffff"/>
<polygon points="383.4,590 392,599 383.4,608 374.8,599" fill="#00ffff"/>
<polygon points="452.9,590 461.5,599 452.9,608 444.3,599" fill="#00ffff"/>
<polygon points="523,589.6 531.6,598.6 523,607.6 514.4,598.6" fill="#00ffff"/>
<polygon points="593.2,589.6 601.8,598.6 593.2,607.6 584.6,598.6" fill="#00ffff"/>
<polygon points="662.8,598.8 671.4,607.8 662.8,616.8 654.2,607.8" fill="#00ffff"/>
</g>
<line x1="59.8" y1="846.5" x2="60.7" y2="860.5" stroke="#000" stroke-width="1.5" stroke-linecap="butt"/>
<polygon points="61.5,872 57.9,859.7 63.4,859.3" fill="#000"/>
<line x1="66.7" y1="851.5" x2="82.2" y2="873.7" stroke="#000" stroke-width="1.6" stroke-linecap="butt"/>
<polygon points="88.8,883.1 79.2,874.6 84.1,871.1" fill="#000"/>
<line x1="247.4" y1="821.5" x2="247.5" y2="827.7" stroke="#000" stroke-width="1.5" stroke-linecap="butt"/>
<polygon points="247.7,839.7 244.5,826.8 250.5,826.7" fill="#000"/>
<text transform="translate(49.4 884.4)" font-family='"Liberation Serif", serif' font-size="14.4" font-weight="normal" text-anchor="start" fill="#111" textLength="19.8" lengthAdjust="spacingAndGlyphs" >461</text>
<text transform="translate(93.3 895.6)" font-family='"Liberation Serif", serif' font-size="14.4" font-weight="normal" text-anchor="start" fill="#111" textLength="20.3" lengthAdjust="spacingAndGlyphs" >508</text>
<text transform="translate(234.3 855.8)" font-family='"Liberation Serif", serif' font-size="14.4" font-weight="normal" text-anchor="start" fill="#111" textLength="26.5" lengthAdjust="spacingAndGlyphs" >1560</text>
<line x1="34.5" y1="499.1" x2="670.7" y2="499.1" stroke="#000" stroke-width="2.4" stroke-linecap="butt"/>
<line x1="41.6" y1="903.1" x2="670.7" y2="903.1" stroke="#000" stroke-width="2.4" stroke-linecap="butt"/>
<line x1="42.8" y1="497.9" x2="42.8" y2="904.3" stroke="#000" stroke-width="2.4" stroke-linecap="butt"/>
<line x1="669.6" y1="497.9" x2="669.6" y2="904.3" stroke="#000" stroke-width="2.3" stroke-linecap="butt"/>
<line x1="34.5" y1="550.2" x2="42.8" y2="550.2" stroke="#000" stroke-width="2.3" stroke-linecap="butt"/>
<line x1="34.5" y1="601.3" x2="42.8" y2="601.3" stroke="#000" stroke-width="2.3" stroke-linecap="butt"/>
<line x1="34.5" y1="652.4" x2="42.8" y2="652.4" stroke="#000" stroke-width="2.3" stroke-linecap="butt"/>
<line x1="34.5" y1="703.5" x2="42.8" y2="703.5" stroke="#000" stroke-width="2.3" stroke-linecap="butt"/>
<line x1="34.5" y1="754.6" x2="42.8" y2="754.6" stroke="#000" stroke-width="2.3" stroke-linecap="butt"/>
<line x1="34.5" y1="805.6" x2="42.8" y2="805.6" stroke="#000" stroke-width="2.3" stroke-linecap="butt"/>
<line x1="34.5" y1="856.7" x2="42.8" y2="856.7" stroke="#000" stroke-width="2.3" stroke-linecap="butt"/>
<line x1="38.4" y1="524.6" x2="42.8" y2="524.6" stroke="#000" stroke-width="2.3" stroke-linecap="butt"/>
<line x1="38.4" y1="575.7" x2="42.8" y2="575.7" stroke="#000" stroke-width="2.3" stroke-linecap="butt"/>
<line x1="38.4" y1="626.8" x2="42.8" y2="626.8" stroke="#000" stroke-width="2.3" stroke-linecap="butt"/>
<line x1="38.4" y1="677.9" x2="42.8" y2="677.9" stroke="#000" stroke-width="2.3" stroke-linecap="butt"/>
<line x1="38.4" y1="729" x2="42.8" y2="729" stroke="#000" stroke-width="2.3" stroke-linecap="butt"/>
<line x1="38.4" y1="780.1" x2="42.8" y2="780.1" stroke="#000" stroke-width="2.3" stroke-linecap="butt"/>
<line x1="38.4" y1="831.1" x2="42.8" y2="831.1" stroke="#000" stroke-width="2.3" stroke-linecap="butt"/>
<line x1="38.4" y1="882.2" x2="42.8" y2="882.2" stroke="#000" stroke-width="2.3" stroke-linecap="butt"/>
<line x1="65.3" y1="903" x2="65.3" y2="910.4" stroke="#000" stroke-width="2.3" stroke-linecap="butt"/>
<text transform="translate(66.3 932.8)" font-family='"Liberation Serif", serif' font-size="17.4" font-weight="normal" text-anchor="middle" fill="#111" >500</text>
<line x1="150.7" y1="903" x2="150.7" y2="910.4" stroke="#000" stroke-width="2.3" stroke-linecap="butt"/>
<text transform="translate(151.7 932.8)" font-family='"Liberation Serif", serif' font-size="17.4" font-weight="normal" text-anchor="middle" fill="#111" >1000</text>
<line x1="236.2" y1="903" x2="236.2" y2="910.4" stroke="#000" stroke-width="2.3" stroke-linecap="butt"/>
<text transform="translate(237.2 932.8)" font-family='"Liberation Serif", serif' font-size="17.4" font-weight="normal" text-anchor="middle" fill="#111" >1500</text>
<line x1="321.6" y1="903" x2="321.6" y2="910.4" stroke="#000" stroke-width="2.3" stroke-linecap="butt"/>
<text transform="translate(322.6 932.8)" font-family='"Liberation Serif", serif' font-size="17.4" font-weight="normal" text-anchor="middle" fill="#111" >2000</text>
<line x1="407" y1="903" x2="407" y2="910.4" stroke="#000" stroke-width="2.3" stroke-linecap="butt"/>
<text transform="translate(408 932.8)" font-family='"Liberation Serif", serif' font-size="17.4" font-weight="normal" text-anchor="middle" fill="#111" >2500</text>
<line x1="492.5" y1="903" x2="492.5" y2="910.4" stroke="#000" stroke-width="2.3" stroke-linecap="butt"/>
<text transform="translate(493.5 932.8)" font-family='"Liberation Serif", serif' font-size="17.4" font-weight="normal" text-anchor="middle" fill="#111" >3000</text>
<line x1="577.9" y1="903" x2="577.9" y2="910.4" stroke="#000" stroke-width="2.3" stroke-linecap="butt"/>
<text transform="translate(578.9 932.8)" font-family='"Liberation Serif", serif' font-size="17.4" font-weight="normal" text-anchor="middle" fill="#111" >3500</text>
<line x1="663.3" y1="903" x2="663.3" y2="910.4" stroke="#000" stroke-width="2.3" stroke-linecap="butt"/>
<text transform="translate(664.3 932.8)" font-family='"Liberation Serif", serif' font-size="17.4" font-weight="normal" text-anchor="middle" fill="#111" >4000</text>
<line x1="108" y1="903" x2="108" y2="908" stroke="#000" stroke-width="2.3" stroke-linecap="butt"/>
<line x1="193.4" y1="903" x2="193.4" y2="908" stroke="#000" stroke-width="2.3" stroke-linecap="butt"/>
<line x1="278.9" y1="903" x2="278.9" y2="908" stroke="#000" stroke-width="2.3" stroke-linecap="butt"/>
<line x1="364.3" y1="903" x2="364.3" y2="908" stroke="#000" stroke-width="2.3" stroke-linecap="butt"/>
<line x1="449.7" y1="903" x2="449.7" y2="908" stroke="#000" stroke-width="2.3" stroke-linecap="butt"/>
<line x1="535.2" y1="903" x2="535.2" y2="908" stroke="#000" stroke-width="2.3" stroke-linecap="butt"/>
<line x1="620.6" y1="903" x2="620.6" y2="908" stroke="#000" stroke-width="2.3" stroke-linecap="butt"/>
<text transform="translate(23.1 785.5) rotate(-90)" font-family='"Liberation Serif", serif' font-size="22" font-weight="normal" text-anchor="start" fill="#111" textLength="172.4" lengthAdjust="spacingAndGlyphs" >Transmittance (a.u)</text>
<text transform="translate(271.8 954.6)" font-family='"Liberation Serif", serif' font-size="22.4" font-weight="normal" text-anchor="start" fill="#111" textLength="180" lengthAdjust="spacingAndGlyphs" >Wavenumber (cm<tspan dy="-8" font-size="14">-1</tspan><tspan dy="8">)</tspan></text>
<line x1="53.3" y1="519.9" x2="106.2" y2="519.9" stroke="#b070e0" stroke-width="2.9" stroke-linecap="round"/>
<polygon points="79.9,510.9 88.5,519.9 79.9,528.9 71.3,519.9" fill="#00ffff"/>
<text transform="translate(111.1 526.8)" font-family='"Liberation Serif", serif' font-size="22.1" font-weight="normal" text-anchor="start" fill="#111" >Biochar after adsorption</text>
<line x1="53.3" y1="550.5" x2="106.2" y2="550.5" stroke="#1e6ee0" stroke-width="2.9" stroke-linecap="round"/>
<polygon points="79.9,540.6 88.2,555.4 71.6,555.4" fill="#00ff00"/>
<text transform="translate(111.1 557.6)" font-family='"Liberation Serif", serif' font-size="22.1" font-weight="normal" text-anchor="start" fill="#111" >Magnatic Biochar 600 <tspan dy="-7.7" font-size="16.6">o</tspan><tspan dy="7.7">C</tspan></text>
<line x1="53.3" y1="581.1" x2="106.2" y2="581.1" stroke="#4a4a4a" stroke-width="2.9" stroke-linecap="round"/>
<rect x="73.8" y="575" width="12.2" height="12.2" fill="#000"/>
<text transform="translate(111.1 588.1)" font-family='"Liberation Serif", serif' font-size="22.1" font-weight="normal" text-anchor="start" fill="#111" >Acid Modified 600 <tspan dy="-7.7" font-size="16.6">o</tspan><tspan dy="7.7">C</tspan></text>
<line x1="337.2" y1="519.9" x2="389.4" y2="519.9" stroke="#35a862" stroke-width="2.9" stroke-linecap="round"/>
<polygon points="363.3,529.8 371.6,515 355,515" fill="#0000ff"/>
<text transform="translate(395.6 526.8)" font-family='"Liberation Serif", serif' font-size="22.1" font-weight="normal" text-anchor="start" fill="#111" >Magnatic Biochar 800 <tspan dy="-7.7" font-size="16.6">o</tspan><tspan dy="7.7">C</tspan></text>
<line x1="337.2" y1="550.5" x2="389.4" y2="550.5" stroke="#ee3f40" stroke-width="2.9" stroke-linecap="round"/>
<circle cx="363.3" cy="550.5" r="6.8" fill="#ff0000"/>
<text transform="translate(395.6 557.6)" font-family='"Liberation Serif", serif' font-size="22.1" font-weight="normal" text-anchor="start" fill="#111" >Acid Modified 800 <tspan dy="-7.7" font-size="16.6">o</tspan><tspan dy="7.7">C</tspan></text>
<text transform="translate(342.5 998.9)" font-family='"Liberation Serif", serif' font-size="26.5" font-weight="normal" text-anchor="middle" fill="#111" >(b)</text>
</g>
<g id="chart-c">
<defs><clipPath id="clipC"><rect x="79.2" y="1024.4" width="551.8" height="350.4"/></clipPath></defs>
<g clip-path="url(#clipC)">
<path d="M79 1346.3L79.8 1346.6L80.6 1346.4L81.4 1346.6L82.2 1346.7L83 1346.2L83.8 1346.1L84.6 1346.9L85.4 1346.4L86.2 1346.4L87 1347.1L87.8 1346.6L88.6 1347L89.4 1346.7L90.2 1346.8L91 1346.4L91.8 1346.9L92.6 1347.1L93.4 1346.8L94.2 1347.1L95 1347L95.8 1346.5L96.6 1347.2L97.4 1347L98.2 1346.8L99 1346.6L99.8 1347.3L100.6 1347L101.4 1347.3L102.2 1347.4L103 1347.3L103.8 1347.4L104.6 1346.9L105.4 1347.2L106.2 1346.9L107 1347.3L107.8 1347.2L108.6 1346.5L109.4 1346.5L110.2 1346.5L111 1347.2L111.8 1346.7L112.6 1346.8L113.4 1346.5L114.2 1346.6L115 1346.3L115.8 1345.9L116.6 1345.7L117.4 1345.3L118.2 1345.2L119 1344.6L119.8 1344.4L120.6 1344L121.4 1343.7L122.2 1343L123 1342L123.8 1342.1L124.6 1341.7L125.4 1341.1L126.2 1340.2L127 1339.8L127.8 1338.8L128.6 1338.9L129.4 1338.1L130.2 1337.4L131 1336.8L131.8 1337.1L132.6 1336.8L133.4 1335.6L134.2 1335.9L135 1335.1L135.8 1334.5L136.6 1334.2L137.4 1334.4L138.2 1334.3L139 1333.4L139.8 1333.8L140.6 1333.1L141.4 1333.6L142.2 1333.1L143 1333.5L143.8 1333.4L144.6 1332.8L145.4 1333.1L146.2 1332.4L147 1332L147.8 1332.5L148.6 1332.1L149.4 1332.3L150.2 1332.5L151 1332.7L151.8 1332.3L152.6 1332.3L153.4 1333.1L154.2 1332.6L155 1333.2L155.8 1333.2L156.6 1332.8L157.4 1332.9L158.2 1333.1L159 1333.3L159.8 1333.4L160.6 1333.5L161.4 1333.7L162.2 1334.1L163 1333.8L163.8 1333.8L164.6 1334.2L165.4 1333.9L166.2 1334.1L167 1334.8L167.8 1334.5L168.6 1334.6L169.4 1334.3L170.2 1334.7L171 1334.9L171.8 1334.4L172.6 1335L173.4 1335.1L174.2 1334.6L175 1335.2L175.8 1335.1L176.6 1335.4L177.4 1335.1L178.2 1335.5L179 1335.6L179.8 1335L180.6 1335.1L181.4 1335.7L182.2 1336L183 1335.4L183.8 1335.7L184.6 1335.8L185.4 1335.6L186.2 1335.7L187 1335.7L187.8 1335.8L188.6 1335.9L189.4 1335.6L190.2 1335.7L191 1336L191.8 1335.3L192.6 1335.8L193.4 1335.9L194.2 1335.5L195 1335.4L195.8 1335.9L196.6 1335.4L197.4 1335.3L198.2 1335.5L199 1335.7L199.8 1335.2L200.6 1335.3L201.4 1335.3L202.2 1335.8L203 1335.4L203.8 1335.7L204.6 1335.1L205.4 1335.2L206.2 1335.5L207 1335.6L207.8 1335.2L208.6 1335L209.4 1334.9L210.2 1335.2L211 1334.9L211.8 1335.4L212.6 1335.4L213.4 1334.8L214.2 1334.8L215 1335.3L215.8 1335.1L216.6 1335.2L217.4 1334.8L218.2 1334.6L219 1334.7L219.8 1335.1L220.6 1334.6L221.4 1334.6L222.2 1334.7L223 1334.7L223.8 1334.6L224.6 1335.1L225.4 1334.4L226.2 1334.3L227 1335.2L227.8 1335.1L228.6 1335.2L229.4 1334.7L230.2 1335.2L231 1335.2L231.8 1334.6L232.6 1335.1L233.4 1335.2L234.2 1335L235 1334.9L235.8 1334.7L236.6 1334.8L237.4 1334.7L238.2 1334.6L239 1335L239.8 1334.8L240.6 1335.3L241.4 1334.6L242.2 1335.4L243 1335.3L243.8 1335.6L244.6 1335.6L245.4 1335.7L246.2 1335.4L247 1335L247.8 1335.7L248.6 1335.2L249.4 1335.4L250.2 1335.8L251 1335.7L251.8 1335.7L252.6 1336.2L253.4 1336L254.2 1335.8L255 1335.8L255.8 1336.4L256.6 1336.1L257.4 1336.5L258.2 1336.2L259 1336.2L259.8 1336.6L260.6 1337L261.4 1336.5L262.2 1337.1L263 1337.4L263.8 1337.4L264.6 1337.5L265.4 1336.9L266.2 1337.5L267 1337.9L267.8 1337.2L268.6 1337.6L269.4 1337.7L270.2 1338.1L271 1338.3L271.8 1338.6L272.6 1339.2L273.4 1338.7L274.2 1339.1L275 1339.4L275.8 1339.7L276.6 1339.9L277.4 1339.1L278.2 1335.5L279 1331.4L279.8 1326.9L280.6 1317.5L281.4 1311.6L282 1309.8L282.2 1310.6L283 1314.8L283.8 1324.7L284.6 1336.6L285.4 1338.9L286.2 1341.6L287 1341.2L287.8 1340.8L288.6 1340.9L289.4 1340.9L290.2 1340.3L291 1339.8L291.8 1339.7L292.6 1339.9L293.4 1340.2L294.2 1340.4L295 1340.2L295.8 1340.6L296.6 1340.6L297.4 1340.5L298.2 1340.5L299 1340.7L299.8 1341L300.6 1340.9L301.4 1341.2L302.2 1341.1L303 1341L303.8 1341.4L304.6 1341.6L305.4 1341.2L306.2 1341.6L307 1341.7L307.8 1342.2L308.6 1342.4L309.4 1342L310.2 1342.6L311 1342.6L311.8 1342.2L312.6 1342.5L313.4 1342.3L314.2 1343L315 1343L315.8 1343.3L316.6 1343.3L317.4 1343.3L318.2 1343.5L319 1343.4L319.8 1343.1L320.6 1343.5L321.4 1343.1L322.2 1343.2L323 1343.8L323.8 1343.2L324.6 1343.3L325.4 1343.3L326.2 1344.1L327 1343.5L327.8 1343.4L328.6 1344.2L329.4 1343.5L330.2 1344.2L331 1344.1L331.8 1344.3L332.6 1344.5L333.4 1344.2L334.2 1344.4L335 1343.7L335.8 1344.4L336.6 1344.2L337.4 1344.5L338.2 1344L339 1344.6L339.8 1344.8L340.6 1344L341.4 1344.3L342.2 1344.6L343 1344.8L343.8 1344.4L344.6 1344.3L345.4 1344.4L346.2 1344.7L347 1344.8L347.8 1344.5L348.6 1344.5L349.4 1344.5L350.2 1344.5L351 1344.5L351.8 1344.2L352.6 1344.6L353.4 1345L354.2 1344.5L355 1344.8L355.8 1344.3L356.6 1344.8L357.4 1344.8L358.2 1344.8L359 1344.6L359.8 1344.6L360.6 1344.7L361.4 1345L362.2 1344.3L363 1344.2L363.8 1344.8L364.6 1345L365.4 1344.6L366.2 1344.5L367 1344.8L367.8 1344.3L368.6 1344.4L369.4 1344.3L370.2 1344.6L371 1344.3L371.8 1344.2L372.6 1344.6L373.4 1344.8L374.2 1344.2L375 1344.5L375.8 1344.2L376.6 1344.5L377.4 1344.3L378.2 1343.9L379 1343.9L379.8 1342L380.6 1339.8L381.4 1337L382.2 1334.1L383 1331.2L383.5 1329.4L383.8 1330.4L384.6 1333.8L385.4 1336.6L386.2 1341L387 1343.8L387.8 1344L388.6 1343.9L389.4 1344.3L390.2 1344.4L391 1344.2L391.8 1344.2L392.6 1344.5L393.4 1344.7L394.2 1344.4L395 1344.8L395.8 1345L396.6 1344.4L397.4 1344L398.2 1343.9L399 1344.2L399.8 1344L400.6 1344.1L401.4 1343.8L402.2 1343.1L403 1342.9L403.8 1342.9L404.6 1342.6L405.4 1343.2L406.2 1343.4L407 1343.5L407.8 1343L408.6 1343.7L409.4 1343.3L410.2 1343.5L411 1343.8L411.8 1343.3L412.6 1343.4L413.4 1344.2L414.2 1343.8L415 1343.9L415.8 1344.2L416.6 1344.4L417.4 1343.9L418.2 1344.3L419 1344.5L419.8 1344.6L420.6 1344.4L421.4 1344.7L422.2 1345.1L423 1344.6L423.8 1344.8L424.6 1344.5L425.4 1344.6L426.2 1345L427 1344.5L427.8 1345.3L428.6 1345.3L429.4 1344.6L430.2 1345.4L431 1344.9L431.8 1345.3L432.6 1345.4L433.4 1345L434.2 1345.3L435 1345.4L435.8 1345.5L436.6 1345.1L437.4 1345.5L438.2 1345.8L439 1345.5L439.8 1345.4L440.6 1345.1L441.4 1345.5L442.2 1345.4L443 1345.7L443.8 1345.7L444.6 1345.7L445.4 1345.3L446.2 1345.7L447 1345.7L447.8 1345.2L448.6 1345.9L449.4 1345.6L450.2 1345.1L451 1345.9L451.8 1345.1L452.6 1345.3L453.4 1345.6L454.2 1345.5L455 1345.4L455.8 1345.5L456.6 1345.3L457.4 1345.2L458.2 1345L459 1344.9L459.8 1345.1L460.6 1344.6L461.4 1343.8L462.2 1343.5L463 1342.5L463.8 1342.1L464.6 1342.5L465.4 1343.2L466.2 1344.3L467 1344.1L467.8 1345.2L468.6 1345.1L469.4 1345.6L470.2 1345.3L471 1345.3L471.8 1345.4L472.6 1345.6L473.4 1345.8L474.2 1345.5L475 1346L475.8 1345.3L476.6 1345.5L477.4 1345.4L478.2 1345.5L479 1346.1L479.8 1346.1L480.6 1345.6L481.4 1345.7L482.2 1345.9L483 1346.3L483.8 1346.4L484.6 1346.4L485.4 1346.2L486.2 1345.9L487 1346.2L487.8 1346L488.6 1346.4L489.4 1346.4L490.2 1346.1L491 1346.2L491.8 1346.7L492.6 1346.1L493.4 1346.8L494.2 1347L495 1347L495.8 1346.5L496.6 1346.7L497.4 1346.7L498.2 1346.8L499 1347.1L499.8 1346.9L500.6 1346.5L501.4 1347L502.2 1346.7L503 1346.8L503.8 1346.9L504.6 1346.3L505.4 1347L506.2 1346.9L507 1346.8L507.8 1346.8L508.6 1346.8L509.4 1346.5L510.2 1346.9L511 1346.4L511.8 1346.9L512.6 1347L513.4 1346.8L514.2 1346.9L515 1347.3L515.8 1347.3L516.6 1346.6L517.4 1347.2L518.2 1347.1L519 1346.6L519.8 1346.8L520.6 1346.7L521.4 1346.6L522.2 1347L523 1347.4L523.8 1346.9L524.6 1347.4L525.4 1347.2L526.2 1346.7L527 1347.4L527.8 1347.2L528.6 1347.5L529.4 1347.1L530.2 1346.9L531 1346.3L531.8 1346.5L532.6 1346.4L533.4 1346.1L534.2 1345.5L535 1345.5L535.8 1345.6L536.6 1345.6L537.4 1345.9L538.2 1346.3L539 1346.7L539.8 1346.7L540.6 1347L541.4 1347.2L542.2 1347.1L543 1347L543.8 1347.2L544.6 1346.9L545.4 1347L546.2 1347.3L547 1347L547.8 1346.8L548.6 1347.4L549.4 1347.3L550.2 1347L551 1347L551.8 1347.1L552.6 1347.2L553.4 1346.8L554.2 1346.6L555 1346.8L555.8 1347.3L556.6 1346.8L557.4 1347L558.2 1346.8L559 1346.8L559.8 1346.8L560.6 1347L561.4 1346.8L562.2 1346.6L563 1346.7L563.8 1346.8L564.6 1347.1L565.4 1346.7L566.2 1346.6L567 1347L567.8 1347L568.6 1347.2L569.4 1346.7L570.2 1347L571 1347L571.8 1346.6L572.6 1347.5L573.4 1346.8L574.2 1346.7L575 1347L575.8 1346.7L576.6 1347.2L577.4 1346.9L578.2 1346.7L579 1346.6L579.8 1347.2L580.6 1346.8L581.4 1347.3L582.2 1347L583 1347.4L583.8 1346.8L584.6 1346.8L585.4 1346.8L586.2 1347.3L587 1347.1L587.8 1346.9L588.6 1346.7L589.4 1347.2L590.2 1347.4L591 1347.1L591.8 1346.6L592.6 1346.6L593.4 1346.6L594.2 1346.7L595 1346.6L595.8 1346.6L596.6 1347.1L597.4 1347.2L598.2 1346.2L599 1346.5L599.8 1345.7L600.6 1345.6L601.4 1346.1L602.2 1346.6L603 1346.3L603.8 1347L604.6 1347.4L605.4 1347.7L606.2 1347L607 1347.2L607.8 1347.7L608.6 1347.1L609.4 1347.4L610.2 1347.3L611 1347.7L611.8 1347.9L612.6 1347.3L613.4 1347.8L614.2 1347.8L615 1348L615.8 1347.7L616.6 1348.1L617.4 1347.6L618.2 1347.7L619 1347.5L619.8 1348.1L620.6 1347.8L621.4 1347.6L622.2 1347.6L623 1348.1L623.8 1348L624.6 1348.1L625.4 1347.9L626.2 1348L627 1347.7L627.8 1348.2L628.6 1347.7L629.4 1348.1L630.2 1348.3L631 1348.3" fill="none" stroke="#4a4a4a" stroke-width="2.0" stroke-linejoin="round"/>
<rect x="81.4" y="1341.4" width="10.4" height="10.4" fill="#000"/>
<rect x="236.4" y="1330.2" width="10.4" height="10.4" fill="#000"/>
<rect x="390.4" y="1339.4" width="10.4" height="10.4" fill="#000"/>
<rect x="545" y="1341.9" width="10.4" height="10.4" fill="#000"/>
<rect x="625.8" y="1342.9" width="10.4" height="10.4" fill="#000"/>
<path d="M79 1297.6L79.8 1297.7L80.6 1297.7L81.4 1297.8L82.2 1297.7L83 1297.9L83.8 1297.4L84.6 1297.6L85.4 1297.9L86.2 1297.8L87 1298.1L87.8 1297.7L88.6 1298L89.4 1298L90.2 1298.2L91 1298.4L91.8 1298.1L92.6 1298.3L93.4 1298.5L94.2 1299L95 1299L95.8 1298.7L96.6 1299.2L97.4 1298.9L98.2 1299.3L99 1299.1L99.8 1299.1L100.6 1299.6L101.4 1299.2L102.2 1299.2L103 1299.7L103.8 1299.6L104.6 1299.3L105.4 1299.7L106.2 1299.4L107 1299.5L107.8 1299.2L108.6 1299.7L109.4 1299.5L110.2 1299.7L111 1299.6L111.8 1299.3L112.6 1299.2L113.4 1298.8L114.2 1298.6L115 1298.3L115.8 1298.2L116.6 1298.1L117.4 1297.5L118.2 1297.7L119 1297.2L119.8 1297L120.6 1297L121.4 1296.6L122.2 1296.2L123 1296L123.8 1295.8L124.6 1295L125.4 1295.2L126.2 1294.3L127 1294.4L127.8 1294.1L128.6 1293.2L129.4 1293.3L130.2 1292.7L131 1292.5L131.8 1291.8L132.6 1291.5L133.4 1291.2L134.2 1291.3L135 1290.5L135.8 1290.4L136.6 1290.2L137.4 1289.8L138.2 1289.1L139 1288.8L139.8 1288.5L140.6 1288.3L141.4 1287.5L142.2 1287.6L143 1287.5L143.8 1287.4L144.6 1286.7L145.4 1287.1L146.2 1286.4L147 1286.4L147.8 1286.4L148.6 1286.4L149.4 1285.9L150.2 1286.3L151 1286.1L151.8 1286L152.6 1286L153.4 1285.9L154.2 1285.9L155 1286L155.8 1286.3L156.6 1286.5L157.4 1286.1L158.2 1286L159 1286.6L159.8 1286.4L160.6 1286.3L161.4 1286.2L162.2 1286.5L163 1286.7L163.8 1286.5L164.6 1286.5L165.4 1286.3L166.2 1286.8L167 1286.3L167.8 1286.6L168.6 1286.8L169.4 1286.4L170.2 1286.8L171 1287L171.8 1286.8L172.6 1286.9L173.4 1286.5L174.2 1286.7L175 1286.6L175.8 1287L176.6 1286.7L177.4 1286.8L178.2 1287.2L179 1287.1L179.8 1287.2L180.6 1286.9L181.4 1287L182.2 1287.1L183 1286.9L183.8 1286.7L184.6 1286.7L185.4 1286.5L186.2 1286.6L187 1286.9L187.8 1286.9L188.6 1286.6L189.4 1286.5L190.2 1286.3L191 1286.1L191.8 1286.2L192.6 1286.4L193.4 1286.4L194.2 1286.1L195 1286.3L195.8 1286.2L196.6 1286.1L197.4 1286L198.2 1286L199 1285.7L199.8 1285.9L200.6 1285.6L201.4 1285.6L202.2 1285.8L203 1285.7L203.8 1285.4L204.6 1285.7L205.4 1285.5L206.2 1285.4L207 1285L207.8 1285.3L208.6 1285L209.4 1285.2L210.2 1285L211 1285.2L211.8 1285.1L212.6 1285.1L213.4 1284.8L214.2 1284.9L215 1284.9L215.8 1284.9L216.6 1284.6L217.4 1284.8L218.2 1284.8L219 1284.6L219.8 1284.8L220.6 1284.7L221.4 1284.4L222.2 1284.4L223 1284.2L223.8 1284.5L224.6 1284.6L225.4 1284.3L226.2 1284.4L227 1284.4L227.8 1284.4L228.6 1284L229.4 1284.3L230.2 1284.2L231 1284.2L231.8 1284L232.6 1284.1L233.4 1284.2L234.2 1284.1L235 1284.1L235.8 1283.7L236.6 1283.7L237.4 1283.9L238.2 1284L239 1283.7L239.8 1284L240.6 1283.9L241.4 1283.5L242.2 1283.9L243 1283.8L243.8 1283.7L244.6 1283.8L245.4 1284L246.2 1284L247 1284.1L247.8 1284L248.6 1284.3L249.4 1284.3L250.2 1284.5L251 1284.6L251.8 1284.4L252.6 1284.9L253.4 1284.4L254.2 1284.7L255 1284.7L255.8 1284.8L256.6 1284.7L257.4 1285.2L258.2 1285L259 1284.9L259.8 1285.4L260.6 1285.2L261.4 1285.5L262.2 1285.5L263 1285.8L263.8 1286.1L264.6 1286.1L265.4 1285.9L266.2 1286.3L267 1286.3L267.8 1286.2L268.6 1286.2L269.4 1286.5L270.2 1286.6L271 1287L271.8 1287.1L272.6 1287L273.4 1287L274.2 1287.4L275 1287L275.8 1287.2L276.6 1287.4L277.4 1286.3L278.2 1284.8L279 1283.9L279.8 1278.5L280.6 1259.4L281.4 1244.4L282 1236.1L282.2 1238.5L283 1248.6L283.8 1267.5L284.6 1284.6L285.4 1286.6L286.2 1288.3L287 1289.7L287.8 1290.6L288.6 1291.2L289.4 1291L290.2 1291.1L291 1291.1L291.8 1291.6L292.6 1291.5L293.4 1291.5L294.2 1291.7L295 1291.6L295.8 1292L296.6 1292L297.4 1292.1L298.2 1292.5L299 1292.6L299.8 1292.2L300.6 1292.6L301.4 1292.6L302.2 1293L303 1293L303.8 1292.8L304.6 1292.9L305.4 1292.9L306.2 1293.5L307 1293.1L307.8 1293.4L308.6 1293.4L309.4 1293.6L310.2 1293.6L311 1293.8L311.8 1293.5L312.6 1294L313.4 1293.8L314.2 1294L315 1294L315.8 1294L316.6 1294.2L317.4 1294.3L318.2 1294.3L319 1294.6L319.8 1294.6L320.6 1294.3L321.4 1294.6L322.2 1294.8L323 1295.1L323.8 1295.2L324.6 1295L325.4 1294.8L326.2 1295.3L327 1295.2L327.8 1295.4L328.6 1295.5L329.4 1295.5L330.2 1295.5L331 1295.9L331.8 1295.6L332.6 1295.7L333.4 1296.1L334.2 1295.7L335 1295.9L335.8 1296.3L336.6 1295.9L337.4 1296.4L338.2 1296.4L339 1296.4L339.8 1296.3L340.6 1296.6L341.4 1296.8L342.2 1296.3L343 1296.6L343.8 1296.7L344.6 1296.7L345.4 1296.6L346.2 1296.5L347 1296.8L347.8 1297L348.6 1296.6L349.4 1296.8L350.2 1297.1L351 1297.2L351.8 1297.1L352.6 1296.8L353.4 1297.3L354.2 1297.4L355 1297.5L355.8 1297.4L356.6 1297L357.4 1297.5L358.2 1297.2L359 1297.5L359.8 1297.6L360.6 1297.5L361.4 1297.1L362.2 1297.2L363 1297.5L363.8 1297L364.6 1297.3L365.4 1297.1L366.2 1297L367 1297.2L367.8 1296.8L368.6 1296.8L369.4 1297L370.2 1296.8L371 1296.7L371.8 1297L372.6 1297.1L373.4 1297.1L374.2 1296.6L375 1296.5L375.8 1296.1L376.6 1296L377.4 1295.6L378.2 1295.6L379 1295L379.8 1294.5L380.6 1294.6L381.4 1290.1L382.2 1286.2L383 1280.7L383.8 1271.6L384.6 1280.1L385.4 1286.6L386.2 1292.2L387 1294.9L387.8 1295.3L388.6 1295.3L389.4 1295.7L390.2 1295.7L391 1295.5L391.8 1295.5L392.6 1295.6L393.4 1295.8L394.2 1295.5L395 1295.8L395.8 1295.8L396.6 1295.5L397.4 1295.8L398.2 1295.5L399 1295.5L399.8 1295.8L400.6 1295.5L401.4 1295.9L402.2 1295.7L403 1295.6L403.8 1295.9L404.6 1295.4L405.4 1295.8L406.2 1295.4L407 1295.5L407.8 1296L408.6 1295.9L409.4 1295.8L410.2 1295.8L411 1296.4L411.8 1296.3L412.6 1296.4L413.4 1296.1L414.2 1296.5L415 1296.4L415.8 1296.4L416.6 1296.5L417.4 1296.8L418.2 1296.7L419 1296.8L419.8 1296.8L420.6 1297.2L421.4 1297.2L422.2 1297.4L423 1297.3L423.8 1297.6L424.6 1297.5L425.4 1297.6L426.2 1297.7L427 1297.8L427.8 1297.7L428.6 1297.6L429.4 1297.7L430.2 1297.8L431 1297.8L431.8 1298.4L432.6 1298.2L433.4 1298.4L434.2 1298L435 1298.3L435.8 1298.6L436.6 1298.5L437.4 1298.4L438.2 1298.5L439 1298.3L439.8 1298.3L440.6 1298.4L441.4 1298.5L442.2 1298.6L443 1298.9L443.8 1298.5L444.6 1298.6L445.4 1298.7L446.2 1298.6L447 1298.7L447.8 1298.7L448.6 1298.9L449.4 1298.7L450.2 1299.3L451 1299L451.8 1299.3L452.6 1299.2L453.4 1299.2L454.2 1299.2L455 1299.5L455.8 1299L456.6 1299.4L457.4 1299.2L458.2 1299.5L459 1299.5L459.8 1298.8L460.6 1298.1L461.4 1297.4L462.2 1296.8L463 1294.9L463.8 1293.2L464.3 1292L464.6 1293.1L465.4 1294.9L466.2 1297L467 1297.8L467.8 1298.3L468.6 1299.1L469.4 1299.5L470.2 1299.2L471 1299.3L471.8 1299.6L472.6 1299.7L473.4 1299.6L474.2 1299.5L475 1299.8L475.8 1299.2L476.6 1299.3L477.4 1299.7L478.2 1299.5L479 1299.3L479.8 1299.6L480.6 1299.9L481.4 1299.7L482.2 1299.6L483 1299.4L483.8 1299.4L484.6 1299.9L485.4 1299.7L486.2 1300L487 1299.5L487.8 1299.6L488.6 1299.5L489.4 1299.7L490.2 1299.6L491 1299.7L491.8 1299.8L492.6 1299.8L493.4 1299.6L494.2 1299.6L495 1300.2L495.8 1299.8L496.6 1300L497.4 1299.9L498.2 1300.1L499 1299.8L499.8 1300L500.6 1299.9L501.4 1300.2L502.2 1300.4L503 1300.2L503.8 1300.4L504.6 1300.1L505.4 1300L506.2 1300.3L507 1300.3L507.8 1300.4L508.6 1300.3L509.4 1300.5L510.2 1300.6L511 1300.7L511.8 1300.4L512.6 1300.5L513.4 1300.7L514.2 1300.4L515 1300.3L515.8 1300.5L516.6 1300.4L517.4 1300.8L518.2 1300.9L519 1300.6L519.8 1300.4L520.6 1300.3L521.4 1300.4L522.2 1300.3L523 1300.4L523.8 1300.5L524.6 1300.2L525.4 1300.1L526.2 1300.4L527 1300L527.8 1300L528.6 1300L529.4 1300L530.2 1299.8L531 1299.9L531.8 1299.8L532.6 1300.1L533.4 1298.9L534.2 1298.1L535 1297L535.8 1298.3L536.6 1299.4L537.4 1300.5L538.2 1300.9L539 1300.8L539.8 1301L540.6 1300.9L541.4 1300.9L542.2 1300.7L543 1301L543.8 1300.8L544.6 1300.7L545.4 1300.6L546.2 1300.7L547 1300.8L547.8 1301.1L548.6 1300.8L549.4 1300.7L550.2 1301.2L551 1301L551.8 1300.7L552.6 1300.7L553.4 1300.8L554.2 1300.9L555 1301.2L555.8 1301.3L556.6 1301.1L557.4 1300.8L558.2 1301L559 1300.9L559.8 1300.9L560.6 1300.7L561.4 1301.1L562.2 1301.2L563 1301.1L563.8 1300.8L564.6 1301L565.4 1300.8L566.2 1301.1L567 1301L567.8 1301.3L568.6 1301.2L569.4 1300.8L570.2 1300.9L571 1301.2L571.8 1301L572.6 1301L573.4 1301L574.2 1301.2L575 1301.3L575.8 1301L576.6 1301.3L577.4 1301.1L578.2 1300.8L579 1301.2L579.8 1301L580.6 1300.7L581.4 1301.3L582.2 1300.7L583 1301L583.8 1300.9L584.6 1301.2L585.4 1300.9L586.2 1300.8L587 1300.8L587.8 1300.7L588.6 1300.9L589.4 1300.8L590.2 1301L591 1300.7L591.8 1300.8L592.6 1300.7L593.4 1301.1L594.2 1301L595 1301L595.8 1300.9L596.6 1300.7L597.4 1300.3L598.2 1300.1L599 1299.3L599.8 1298.5L600.6 1298L601.4 1298.6L602.2 1299.6L603 1300.4L603.8 1300.7L604.6 1301.2L605.4 1301L606.2 1301.2L607 1301.4L607.8 1301.3L608.6 1301.4L609.4 1301.2L610.2 1301.1L611 1301.4L611.8 1301.5L612.6 1301.3L613.4 1301.5L614.2 1301.5L615 1301.3L615.8 1301.5L616.6 1301.6L617.4 1301.7L618.2 1301.9L619 1301.8L619.8 1302.2L620.6 1302.1L621.4 1302.2L622.2 1302.1L623 1302.2L623.8 1302.1L624.6 1302.3L625.4 1302.1L626.2 1302.3L627 1302.4L627.8 1302.3L628.6 1302.2L629.4 1302.1L630.2 1302.2L631 1302.3" fill="none" stroke="#ee3f40" stroke-width="2.2" stroke-linejoin="round"/>
<path d="M79 1296.8L79.5 1296L80.1 1298.2L80.7 1295.8L81.2 1297.7L81.8 1297L82.3 1295.7L82.8 1297.6L83.4 1295.7L84 1297.4L84.5 1295.8L85 1296L85.6 1297.4L86.2 1299.1L86.7 1296.2L87.2 1296.7L87.8 1298.4L88.3 1299.9L88.9 1298.4L89.5 1297.7L90 1300.2L90.5 1296.3L91.1 1299.8L91.7 1297.5L92.2 1297L92.8 1296.9L93.3 1297.8L93.8 1300L94.4 1297.4L95 1299.1L95.5 1299.4L96 1298.4L96.6 1299.2L97.2 1297.2L97.7 1297.3L98.2 1298L98.8 1300L99.3 1299L99.9 1298.6L100.5 1299.8L101 1299.2L101.5 1298.6L102.1 1300.6L102.7 1300.2L103.2 1298.3L103.8 1299.7L104.3 1299.5L104.8 1301L105.4 1300.4L106 1298.5L106.5 1301.4L107 1297.8L107.6 1299.1L108.2 1300.5L108.7 1297.9L109.2 1299.4L109.8 1297.5L110.3 1300.1L110.9 1300.5L111.5 1299.7L112 1301L112.5 1298.5L113.1 1299.9L113.7 1299.4L114.2 1299.1L114.8 1298.4L115.3 1299.9L115.8 1300.2L116.4 1298L117 1298.7L117.5 1295.9L118 1298.5L118.6 1298.1L119.2 1299.4L119.7 1298.5L120.2 1296.1L120.8 1296.3L121.3 1297.3L121.9 1294.5L122.5 1296.1L123 1294.6L123.5 1294.1L124.1 1293.7L124.7 1296.4L125.2 1293.5L125.8 1293.7L126.3 1294.1L126.8 1295.8L127.4 1292.3L128 1293.6L128.5 1293.8L129.1 1294.9L129.6 1294.4L130.2 1294.4L130.7 1291.6L131.2 1292L131.8 1291.5L132.3 1293.5L132.9 1293.5L133.4 1289.9L134 1289.7L134.6 1289.7L135.1 1289.5L135.7 1290.3L136.2 1290.5L136.8 1288.9L137.3 1287.5L137.8 1289L138.4 1288.6L138.9 1289.2L139.5 1290.5L140.1 1289.2L140.6 1288.2L141.2 1288.4L141.7 1288.4L142.2 1285.6L142.8 1289L143.3 1288.4L143.9 1288.7L144.4 1288.3L145 1286.4L145.6 1286.4L146.1 1285L146.7 1287.1L147.2 1284.6L147.8 1284.5L148.3 1285L148.8 1284.7L149.4 1285.3L149.9 1284.1L150.5 1283.9L151.1 1284.6L151.6 1284.4L152.2 1285.5L152.7 1284.1L153.2 1287.7L153.8 1286.6L154.3 1284.7L154.9 1285.1L155.4 1285.6L156 1285.7L156.6 1284.7L157.1 1287.7L157.7 1288.3L158.2 1286.2L158.8 1286.2L159.3 1284.6L159.8 1284.7L160.4 1285.7L160.9 1285.4L161.5 1287.8L162.1 1285L162.6 1284.4L163.2 1288.4L163.7 1286.6L164.2 1285L164.8 1286.7L165.3 1284.5L165.9 1286.7L166.4 1288.6L167 1288.1L167.6 1287.4L168.1 1285.6L168.7 1286.1L169.2 1285.2L169.8 1287.8L170.3 1286.8L170.8 1287.9L171.4 1286L171.9 1285.6L172.5 1288L173.1 1288.8L173.6 1288.2L174.2 1288.1L174.7 1288.1L175.2 1287.8L175.8 1285.7L176.3 1286.9L176.9 1286.3L177.4 1284.9L178 1284.9L178.6 1286L179.1 1285.9L179.7 1287.7L180.2 1288.9L180.8 1286.8L181.3 1288.8L181.8 1289L182.4 1288.9L182.9 1286.3L183.5 1285.7L184.1 1285.7L184.6 1285.5L185.2 1285.5L185.7 1287.2L186.2 1288.4L186.8 1288.1L187.3 1286.5L187.9 1287.2L188.4 1287.8L189 1284.8L189.6 1287.1L190.1 1288.1L190.7 1287.6L191.2 1287.4L191.8 1286.2L192.3 1284.9L192.8 1287.4L193.4 1285.5L193.9 1287.4L194.5 1288.1L195.1 1285.6L195.6 1285.6L196.2 1287.9L196.7 1286.9L197.2 1284.5L197.8 1284.3L198.3 1284.4L198.9 1287.5L199.4 1287.1L200 1284.3L200.6 1287.1L201.1 1287.7L201.7 1286.3L202.2 1285L202.8 1285.8L203.3 1284L203.8 1283.4L204.4 1287.4L204.9 1286L205.5 1285.5L206.1 1287.2L206.6 1285L207.2 1286.8L207.7 1286.6L208.2 1284L208.8 1284.1L209.3 1284.3L209.9 1284L210.4 1285.4L211 1284L211.6 1284.6L212.1 1283.4L212.7 1286.6L213.2 1284.3L213.8 1284.7L214.3 1285.2L214.8 1286.5L215.4 1284.4L215.9 1286.4L216.5 1284.7L217.1 1284.8L217.6 1284.7L218.2 1282.5L218.7 1284.3L219.2 1283.2L219.8 1282.4L220.3 1285.7L220.9 1283.1L221.4 1284.3L222 1285.3L222.6 1284.6L223.1 1283.6L223.7 1284.4L224.2 1284.6L224.8 1285.5L225.3 1282.6L225.8 1284.5L226.4 1283.2L226.9 1283.3L227.5 1285.4L228.1 1284.2L228.6 1284.5L229.2 1285.3L229.7 1285.9L230.2 1283.9L230.8 1284.6L231.3 1284.1L231.9 1284.1L232.4 1284.9L233 1283.9L233.6 1284.2L234.1 1283.9L234.7 1285.9L235.2 1284.8L235.8 1285.6L236.3 1285.8L236.8 1282.9L237.4 1284.2L237.9 1285.8L238.5 1285.3L239.1 1282.3L239.6 1282.3L240.2 1283.6L240.7 1282L241.2 1282.7L241.8 1282.1L242.3 1284.6L242.9 1285.1L243.4 1285.6L244 1282.6L244.6 1285L245.1 1284.8L245.7 1282.6L246.2 1285.8L246.8 1286.2L247.3 1283.1L247.8 1286.2L248.4 1283.9L248.9 1284.3L249.5 1286.5L250.1 1285.9L250.6 1283.1L251.2 1284.3L251.7 1284.7L252.2 1284L252.8 1283.4L253.3 1284L253.9 1285.7L254.4 1282.8L255 1285.1L255.6 1284.6L256.1 1282.9L256.6 1284.3L257.2 1285.5L257.8 1285.1L258.3 1283.3L258.9 1287.2L259.4 1286.5L259.9 1287.3L260.5 1283.7L261.1 1284.5L261.6 1283.6L262.1 1286.8L262.7 1284.7L263.2 1284.2L263.8 1285.5L264.4 1287.6L264.9 1287.3L265.4 1285L266 1284.6L266.6 1287.9L267.1 1286.5L267.6 1287.1L268.2 1284.6L268.8 1284.5L269.3 1287.3L269.9 1286.2L270.4 1284.8L270.9 1288.5L271.5 1287.3L272.1 1288.1L272.6 1285.2L273.1 1288.5L273.7 1285.3L274.2 1288.7L274.8 1287.1L275.4 1286.7L275.9 1287.6L276.4 1289.3L277 1285.8L277.6 1284.4L278.1 1285.3L278.6 1283.3L279.2 1281.9L279.8 1278L280.3 1264.6L280.9 1252.3L281.4 1243.7L281.9 1236L282 1236.1L282.5 1243.5L283.1 1248.5L283.6 1262.3L284.1 1274.5L284.7 1284.3L285.2 1284L285.8 1286.1L286.4 1286.3L286.9 1290.4L287.4 1290.8L288 1289.5L288.6 1290.8L289.1 1292.8L289.6 1289.4L290.2 1292.4L290.8 1290.9L291.3 1291.3L291.9 1292.8L292.4 1291L292.9 1291.6L293.5 1292.4L294.1 1293.7L294.6 1291.1L295.1 1293.3L295.7 1292.8L296.2 1292.6L296.8 1291.7L297.4 1291.5L297.9 1290.4L298.4 1290.8L299 1290.6L299.6 1293.5L300.1 1291.5L300.6 1291.2L301.2 1290.9L301.8 1294.2L302.3 1294.3L302.9 1293.6L303.4 1292L303.9 1291.9L304.5 1292.1L305.1 1292.9L305.6 1291.7L306.1 1293L306.7 1292.2L307.2 1295.2L307.8 1295.3L308.4 1293.6L308.9 1292.4L309.4 1295.5L310 1292.8L310.6 1293L311.1 1291.6L311.6 1293.2L312.2 1293.7L312.8 1293.9L313.3 1292.6L313.9 1294L314.4 1291.9L314.9 1293.1L315.5 1292.4L316.1 1293.8L316.6 1292.3L317.1 1292.3L317.7 1293.5L318.2 1293.3L318.8 1294.8L319.4 1294.6L319.9 1295.6L320.4 1295.3L321 1295.6L321.6 1296.3L322.1 1294.3L322.6 1294.1L323.2 1296.9L323.8 1293.5L324.3 1295.9L324.9 1295.6L325.4 1293.2L325.9 1296.5L326.5 1296.8L327.1 1295.8L327.6 1296.3L328.1 1296.7L328.7 1293.9L329.2 1295.6L329.8 1295.5L330.4 1297L330.9 1296.9L331.4 1297L332 1296.1L332.6 1297.4L333.1 1296.6L333.6 1296.7L334.2 1294.8L334.8 1294L335.3 1294.5L335.9 1295.5L336.4 1294.5L336.9 1297.6L337.5 1296.5L338.1 1296.8L338.6 1296.9L339.1 1297.2L339.7 1296.4L340.2 1294.4L340.8 1297.7L341.4 1297.6L341.9 1296.6L342.4 1296.7L343 1297.3L343.6 1294.8L344.1 1297.6L344.6 1295.6L345.2 1294.9L345.8 1295.7L346.3 1297.7L346.9 1295.6L347.4 1297.8L347.9 1298.8L348.5 1296.8L349.1 1296.4L349.6 1296.8L350.1 1297.7L350.7 1298.1L351.2 1297.5L351.8 1297.6L352.4 1295.3L352.9 1295.6L353.4 1296.1L354 1298.2L354.6 1296.4L355.1 1297.5L355.6 1295.2L356.2 1295.4L356.8 1296.3L357.3 1298L357.9 1298.1L358.4 1298.1L358.9 1296.5L359.5 1297.5L360.1 1297.2L360.6 1297.2L361.1 1295.7L361.7 1299L362.2 1296L362.8 1299.3L363.4 1299.1L363.9 1295.2L364.4 1297L365 1298.5L365.6 1299.1L366.1 1296.9L366.6 1296.2L367.2 1295.9L367.8 1299L368.3 1295.9L368.9 1297.4L369.4 1295.5L369.9 1297.1L370.5 1298.9L371.1 1295.5L371.6 1298.3L372.1 1297L372.7 1298.6L373.2 1297.8L373.8 1295.8L374.4 1298.4L374.9 1296.5L375.4 1294.3L376 1294.1L376.6 1295.9L377.1 1295.5L377.6 1294.7L378.2 1293.9L378.8 1294.5L379.3 1294.2L379.9 1296.2L380.4 1292.5L380.9 1293.7L381.5 1291.2L382.1 1285.3L382.6 1285.8L383.1 1279.9L383.7 1274.4L383.8 1271.6L384.2 1275.4L384.8 1281.4L385.4 1285.7L385.9 1292.2L386.4 1294.3L387 1294.5L387.6 1294.9L388.1 1294.4L388.6 1293.5L389.2 1293.9L389.8 1297.1L390.3 1294.8L390.9 1297.5L391.4 1294.6L391.9 1294.7L392.5 1295.7L393.1 1294.4L393.6 1295.2L394.1 1297.6L394.7 1297.3L395.2 1297L395.8 1296.2L396.4 1297.4L396.9 1297.6L397.4 1295.9L398 1296.6L398.6 1293.8L399.1 1296.7L399.6 1295.5L400.2 1296.8L400.8 1296.3L401.3 1294.8L401.9 1293.8L402.4 1297.5L402.9 1294.1L403.5 1295.6L404.1 1295L404.6 1294.9L405.1 1296.7L405.7 1297.7L406.2 1294.7L406.8 1296.4L407.4 1294.9L407.9 1296L408.4 1295.4L409 1294.5L409.6 1294.5L410.1 1294.8L410.6 1297.8L411.2 1296.1L411.8 1295L412.3 1297.9L412.9 1298.4L413.4 1296.1L413.9 1294.9L414.5 1295.1L415.1 1294.8L415.6 1295.9L416.1 1294.9L416.7 1295.6L417.2 1295.7L417.8 1297.1L418.4 1298.5L418.9 1297.9L419.4 1296.6L420 1296.6L420.6 1297.1L421.1 1296.6L421.6 1296.5L422.2 1295.4L422.8 1296.3L423.3 1299.3L423.9 1295.8L424.4 1297.4L424.9 1298L425.5 1299.1L426.1 1296.4L426.6 1296.7L427.1 1296.7L427.7 1297.3L428.2 1297.6L428.8 1299.8L429.4 1299.4L429.9 1299.6L430.4 1296L431 1296.1L431.6 1299L432.1 1299.9L432.6 1298.1L433.2 1298.6L433.8 1296.2L434.3 1297.8L434.9 1300.1L435.4 1299.7L435.9 1299.9L436.5 1300.4L437.1 1297.4L437.6 1296.8L438.1 1297L438.7 1298.6L439.2 1299.3L439.8 1300.4L440.4 1299.5L440.9 1299.2L441.4 1299.7L442 1298.5L442.6 1298.9L443.1 1296.8L443.6 1299.9L444.2 1297.6L444.8 1300.5L445.3 1299.4L445.9 1298L446.4 1297.3L446.9 1297.8L447.5 1299.5L448.1 1299.7L448.6 1297.3L449.1 1297.1L449.7 1299.1L450.2 1299.4L450.8 1298.6L451.4 1297.9L451.9 1299.5L452.4 1297L453 1298.3L453.6 1299L454.1 1301.1L454.6 1299.8L455.2 1300.8L455.8 1299.1L456.3 1298.2L456.9 1298.2L457.4 1301.3L457.9 1300.2L458.5 1298.6L459.1 1297.4L459.6 1299.1L460.1 1299.4L460.7 1297.9L461.2 1296.8L461.8 1298L462.4 1298.6L462.9 1294.3L463.4 1292.1L464 1292.1L464.3 1292L464.6 1292.3L465.1 1294.9L465.6 1294.4L466.2 1298.4L466.8 1298.7L467.3 1298.1L467.9 1297.2L468.4 1300.8L468.9 1298.4L469.5 1300.7L470.1 1298.3L470.6 1298.3L471.1 1300.5L471.7 1298.6L472.2 1301.4L472.8 1299.5L473.4 1298.2L473.9 1298.3L474.4 1299.2L475 1300.2L475.6 1301.4L476.1 1298.1L476.6 1299.1L477.2 1298.4L477.8 1301.6L478.3 1298.1L478.9 1297.7L479.4 1297.8L479.9 1299.2L480.5 1301.3L481.1 1301.2L481.6 1300.6L482.1 1301.7L482.7 1301.5L483.2 1299L483.8 1298.4L484.4 1301.5L484.9 1300.7L485.4 1297.8L486 1300.4L486.6 1299.2L487.1 1299.2L487.6 1299.1L488.2 1298.4L488.8 1297.7L489.3 1298.9L489.9 1299.2L490.4 1301.7L490.9 1298.3L491.5 1301.8L492.1 1298.6L492.6 1299.3L493.1 1301.2L493.7 1301.2L494.2 1299.6L494.8 1298L495.4 1299.8L495.9 1299.4L496.4 1301.7L497 1298.7L497.6 1299.4L498.1 1301.7L498.6 1298.1L499.2 1299.7L499.8 1301.4L500.3 1301.2L500.9 1298.2L501.4 1298.2L501.9 1298.3L502.5 1301.9L503.1 1299.2L503.6 1301.2L504.1 1301.9L504.7 1299.6L505.2 1299.3L505.8 1302.2L506.4 1300.8L506.9 1299.3L507.4 1301.2L508 1299.6L508.6 1299.4L509.1 1298.3L509.6 1301.5L510.2 1302.2L510.8 1301L511.3 1302.3L511.9 1298.5L512.4 1299.4L513 1300.4L513.5 1302.4L514 1302.4L514.6 1300.1L515.1 1299.5L515.7 1300.3L516.2 1300.6L516.8 1302.4L517.4 1299.3L517.9 1301.9L518.5 1301.7L519 1302L519.5 1301.8L520.1 1301.1L520.6 1299.9L521.2 1299.8L521.8 1300L522.3 1301.7L522.9 1298.7L523.4 1299.2L524 1301.5L524.5 1299.3L525 1298.5L525.6 1298.4L526.1 1300.5L526.7 1299.5L527.2 1302.2L527.8 1301.8L528.4 1302.2L528.9 1299.1L529.5 1298.3L530 1298.4L530.5 1300L531.1 1300.9L531.6 1299.7L532.2 1298.8L532.8 1299.4L533.3 1299.5L533.9 1299.1L534.4 1298.7L535 1298.4L535.5 1298.4L536 1296.9L536.6 1300.8L537.1 1299.3L537.7 1301L538.2 1300.2L538.8 1301.7L539.4 1299.5L539.9 1299.7L540.5 1299.7L541 1299.3L541.5 1302.4L542.1 1301.1L542.6 1300.1L543.2 1300.4L543.8 1302.9L544.3 1300.9L544.9 1299.8L545.4 1302.2L546 1301.6L546.5 1303L547 1299.3L547.6 1300.8L548.1 1302.3L548.7 1302.4L549.2 1302.7L549.8 1299.1L550.4 1300.1L550.9 1299.4L551.5 1299.7L552 1303L552.5 1301.3L553.1 1302.8L553.6 1300.5L554.2 1302.5L554.8 1300.8L555.3 1300L555.9 1302.2L556.4 1302.9L557 1299.3L557.5 1301.4L558 1301.5L558.6 1299.8L559.1 1300.4L559.7 1299.5L560.2 1299.8L560.8 1300L561.4 1301.4L561.9 1301.6L562.5 1299.8L563 1298.9L563.5 1300.3L564.1 1301.7L564.6 1299.7L565.2 1300.2L565.8 1299.8L566.3 1302.2L566.9 1301.2L567.4 1299.2L568 1299.3L568.5 1300.6L569 1301.2L569.6 1301.6L570.1 1299.3L570.7 1299.6L571.2 1301.8L571.8 1300.6L572.4 1300.1L572.9 1300.2L573.5 1302.9L574 1300.2L574.5 1301.3L575.1 1300.4L575.6 1300.6L576.2 1302.5L576.8 1303.1L577.3 1300.4L577.9 1299.7L578.4 1302L579 1299.8L579.5 1298.9L580 1302.7L580.6 1300.7L581.1 1302.3L581.7 1300.6L582.2 1302.6L582.8 1300.8L583.4 1299.5L583.9 1298.9L584.5 1301.2L585 1301.5L585.5 1302.7L586.1 1299.2L586.6 1301.4L587.2 1300.4L587.8 1300.9L588.3 1299.4L588.9 1300L589.4 1301L590 1302.7L590.5 1299.2L591 1300.8L591.6 1302.1L592.1 1302.8L592.7 1299.6L593.2 1299.3L593.8 1302.7L594.4 1302.8L594.9 1300.8L595.5 1298.9L596 1302.6L596.5 1300.3L597.1 1302.4L597.6 1300.8L598.2 1301.3L598.8 1298.1L599.3 1300.3L599.9 1297.6L600.4 1297.9L601 1299.9L601.5 1300.3L602 1298.1L602.6 1298.7L603.1 1299.9L603.7 1300.8L604.2 1300.5L604.8 1299.5L605.4 1300L605.9 1302.1L606.5 1302.8L607 1299.2L607.5 1301.5L608.1 1302.3L608.6 1299.3L609.2 1302.7L609.8 1299.7L610.3 1301.8L610.9 1301.6L611.4 1301.9L612 1300.6L612.5 1301.1L613 1301.8L613.6 1301.2L614.1 1302.2L614.7 1301.4L615.2 1301.4L615.8 1299.7L616.4 1302.2L616.9 1301.7L617.5 1300.6L618 1302.9L618.5 1303L619.1 1301.7L619.6 1300.5L620.2 1301.8L620.8 1300.3L621.3 1300.4L621.9 1301.7L622.4 1300.3L623 1301.8L623.5 1302.1L624 1300.2L624.6 1302.7L625.1 1300.4L625.7 1303.2L626.2 1303.4L626.8 1302.3L627.4 1300.4L627.9 1302.3L628.5 1301.8L629 1304.3L629.5 1300.9L630.1 1303.9L630.6 1304.5" fill="none" stroke="#ee3f40" stroke-width="1.2" stroke-linejoin="round"/>
<circle cx="86.1" cy="1297.7" r="6.1" fill="#ff0000"/>
<circle cx="241.1" cy="1283.8" r="6.1" fill="#ff0000"/>
<circle cx="395.6" cy="1295.7" r="6.1" fill="#ff0000"/>
<circle cx="549.7" cy="1301.4" r="6.1" fill="#ff0000"/>
<circle cx="631" cy="1302.4" r="6.1" fill="#ff0000"/>
<path d="M79 1218C80.1 1218.1 81.9 1218.3 85.4 1218.6C88.9 1218.9 95.5 1219.5 99.8 1219.8C104.1 1220.1 106.5 1220.6 111 1220.3C115.5 1220 120.7 1218.6 127.1 1217.8C133.5 1217 142.3 1216 149.4 1215.3C156.5 1214.6 163.2 1214.2 169.8 1213.6C176.4 1213 182.6 1212.4 189.1 1211.6C195.6 1210.8 203.8 1209.5 209 1208.6C214.2 1207.7 216.1 1207.1 220 1206.2C223.9 1205.3 228.3 1203.9 232.4 1203.2C236.5 1202.5 241.3 1202.2 244.8 1202.2C248.3 1202.2 250.2 1202.2 253.5 1202.9C256.8 1203.6 259.9 1204.8 264.7 1206.2C269.4 1207.7 275.8 1209.9 282 1211.6C288.2 1213.3 295.7 1215.3 301.9 1216.6C308.1 1217.9 313.5 1218.8 319.3 1219.6C325.1 1220.3 330.1 1220.7 336.7 1221.1C343.3 1221.5 350.1 1221.8 359 1222C367.9 1222.2 380.3 1222.3 390 1222.6C399.7 1222.9 404 1223.4 417.2 1224C430.4 1224.6 455.4 1225.5 469.3 1226C483.2 1226.5 489 1226.7 500.8 1227C512.6 1227.3 526 1227.6 540 1227.8C554 1228 569.8 1228.2 585 1228.4C600.2 1228.6 623.3 1228.7 631 1228.7" fill="none" stroke="#1e6ee0" stroke-width="2.7" stroke-linejoin="round"/>
<polygon points="86.1,1209.9 93.3,1223.1 78.9,1223.1" fill="#00ff00"/>
<polygon points="169.8,1204.8 177,1218 162.6,1218" fill="#00ff00"/>
<polygon points="253.6,1195 260.8,1208.2 246.4,1208.2" fill="#00ff00"/>
<polygon points="337.5,1213 344.7,1226.2 330.3,1226.2" fill="#00ff00"/>
<polygon points="417.6,1215.4 424.8,1228.6 410.4,1228.6" fill="#00ff00"/>
<polygon points="501.3,1218.4 508.5,1231.6 494.1,1231.6" fill="#00ff00"/>
<polygon points="585.3,1219.8 592.5,1233 578.1,1233" fill="#00ff00"/>
<polygon points="631,1220.1 638.2,1233.3 623.8,1233.3" fill="#00ff00"/>
<path d="M79 1193.4L80.6 1193.6L82.2 1194.2L83.8 1193.9L85.4 1194.1L87 1194.3L88.6 1194.1L90.2 1194.5L91.8 1194.8L93.4 1195.1L95 1194.6L96.6 1194.9L98.2 1194.8L99.8 1195.7L101.4 1195.7L103 1195.1L104.6 1196.1L106.2 1196.2L107.8 1195.9L109.4 1195.9L111 1195.6L112.6 1195.2L114.2 1195.4L115.8 1194.7L117.4 1194.6L119 1194.4L120.6 1193.9L122.2 1194.1L123.8 1193.9L125.4 1194L127 1193.4L128.6 1193.4L130.2 1193.1L131.8 1193L133.4 1192.7L135 1192.3L136.6 1192.8L138.2 1192.7L139.8 1192.3L141.4 1192L143 1191.4L144.6 1191.2L146.2 1191L147.8 1190.6L149.4 1191.2L151 1190.6L152.6 1190.9L154.2 1190.2L155.8 1190.6L157.4 1190.3L159 1189.2L160.6 1189.2L162.2 1189.7L163.8 1189.1L165.4 1189.4L167 1188.6L168.6 1188.1L170.2 1188.5L171.8 1188.4L173.4 1187.7L175 1187.3L176.6 1187.4L178.2 1187.8L179.8 1187.4L181.4 1186.6L183 1186.5L184.6 1186.2L186.2 1185.9L187.8 1186.5L189.4 1185.6L191 1185.7L192.6 1185.3L194.2 1184.7L195.8 1185L197.4 1184L199 1184.3L200.6 1183.4L202.2 1183.4L203.8 1182.9L205.4 1182.7L207 1183.1L208.6 1182.6L210.2 1181.9L211.8 1182.3L213.4 1181.4L215 1181.4L216.6 1181.7L218.2 1181.3L219.8 1180.6L221.4 1181.3L223 1180.4L224.6 1180.2L226.2 1180.6L227.8 1179.9L229.4 1179.7L231 1179.3L232.6 1179.1L234.2 1179.5L235.8 1178.9L237.4 1179.1L239 1178.7L240.6 1178.6L242.2 1179L243.8 1178.4L245.4 1178.4L247 1178.6L248.6 1177.8L250.2 1177.7L251.8 1178.3L253.4 1178.1L255 1177.5L256.6 1177.4L258.2 1178L259.8 1178.1L261.4 1177.4L263 1178.1L264.6 1178L266.2 1177.7L267.8 1177.5L269.4 1177.1L271 1177L272.6 1177.9L274.2 1177.2L275.8 1177.6L277.4 1177.1L279 1177.7L280.6 1177.4L282.2 1177.1L283.8 1176.9L285.4 1177.3L287 1176.6L288.6 1176.7L290.2 1176.9L291.8 1177.2L293.4 1176.8L295 1176.4L296.6 1177L298.2 1176.2L299.8 1175.9L301.4 1176.1L303 1176.3L304.6 1176.1L306.2 1176.3L307.8 1176.7L309.4 1177L311 1176.7L312.6 1177.1L314.2 1177.8L315.8 1178L317.4 1177.8L319 1178L320.6 1177.8L322.2 1177.2L323.8 1177L325.4 1176.9L327 1177.6L328.6 1177.3L330.2 1177.4L331.8 1176.4L333.4 1176.9L335 1176.6L336.6 1176.7L338.2 1175.4L339.8 1175.1L341.4 1173.2L343 1172.9L344.6 1172.4L346.2 1172.9L347.8 1174L349.4 1175.1L351 1175.9L352.6 1176.6L354.2 1176.7L355.8 1177.5L357.4 1177.9L359 1178L360.6 1177.7L362.2 1178.2L363.8 1178.4L365.4 1178.3L367 1178.5L368.6 1178.4L370.2 1178.5L371.8 1178.5L373.4 1177.9L375 1178.4L376.6 1178.7L378.2 1178.6L379.8 1178.4L381.4 1178L383 1178.3L384.6 1178.1L386.2 1177.9L387.8 1178.2L389.4 1177.4L391 1178L392.6 1177.2L394.2 1177.7L395.8 1177.6L397.4 1177.3L399 1177.7L400.6 1177.4L402.2 1177.5L403.8 1177.7L405.4 1177L407 1176.7L408.6 1176.9L410.2 1177.2L411.8 1176.7L413.4 1176.6L415 1177.3L416.6 1177L418.2 1176.8L419.8 1177.3L421.4 1176.8L423 1177.2L424.6 1176.8L426.2 1177.1L427.8 1177.5L429.4 1177.7L431 1177.7L432.6 1177.2L434.2 1177.5L435.8 1177.3L437.4 1177.2L439 1177.6L440.6 1178L442.2 1178.1L443.8 1178L445.4 1178.2L447 1177.5L448.6 1177.4L450.2 1177.6L451.8 1177.4L453.4 1177.3L455 1177.5L456.6 1177.7L458.2 1177.5L459.8 1177.3L461.4 1177.8L463 1177.9L464.6 1177.3L466.2 1176.9L467.8 1176.9L469.4 1177.7L471 1176.8L472.6 1177.5L474.2 1177.3L475.8 1177L477.4 1177.5L479 1176.7L480.6 1176.8L482.2 1177.1L483.8 1176.6L485.4 1177.4L487 1176.8L488.6 1176.6L490.2 1176.5L491.8 1177.1L493.4 1176.9L495 1177L496.6 1177L498.2 1177.1L499.8 1177.3L501.4 1177L503 1176.7L504.6 1177.1L506.2 1176.9L507.8 1176.8L509.4 1177.4L511 1177.8L512.6 1177.4L514.2 1177.6L515.8 1177.5L517.4 1177.7L519 1177.4L520.6 1177.3L522.2 1177L523.8 1176L525.4 1175.8L527 1176.6L528.6 1176.5L530.2 1178L531.8 1177.8L533.4 1177.2L535 1177.5L536.6 1177.6L538.2 1177.9L539.8 1177.3L541.4 1177.5L543 1177.8L544.6 1177.7L546.2 1177.9L547.8 1177.4L549.4 1177.7L551 1177.3L552.6 1177.8L554.2 1177.9L555.8 1177.8L557.4 1177.9L559 1177.5L560.6 1178.2L562.2 1178.3L563.8 1178.3L565.4 1177.9L567 1177.9L568.6 1177.2L570.2 1177.5L571.8 1176.6L573.4 1175.4L575 1175.9L576.6 1177L578.2 1177.3L579.8 1177.7L581.4 1177.5L583 1177.2L584.6 1178.1L586.2 1177.4L587.8 1178.2L589.4 1177.6L591 1177.8L592.6 1178.4L594.2 1177.8L595.8 1177.8L597.4 1178.3L599 1178.5L600.6 1178.7L602.2 1178.6L603.8 1178.9L605.4 1178.4L607 1178.9L608.6 1178L610.2 1178.1L611.8 1178.5L613.4 1178.2L615 1178.7L616.6 1178.6L618.2 1178.5L619.8 1178.8L621.4 1178.5L623 1178.3L624.6 1178.4L626.2 1178.8L627.8 1178.9L629.4 1178.2" fill="none" stroke="#35a862" stroke-width="2.7" stroke-linejoin="round"/>
<polygon points="86.1,1202.8 93.3,1189.6 78.9,1189.6" fill="#0000ff"/>
<polygon points="169.8,1197.3 177,1184.1 162.6,1184.1" fill="#0000ff"/>
<polygon points="253.6,1187.1 260.8,1173.9 246.4,1173.9" fill="#0000ff"/>
<polygon points="337.5,1186.5 344.7,1173.3 330.3,1173.3" fill="#0000ff"/>
<polygon points="417.6,1186.8 424.8,1173.6 410.4,1173.6" fill="#0000ff"/>
<polygon points="501.3,1186.8 508.5,1173.6 494.1,1173.6" fill="#0000ff"/>
<polygon points="585.3,1187.2 592.5,1174 578.1,1174" fill="#0000ff"/>
<polygon points="631,1187.6 638.2,1174.4 623.8,1174.4" fill="#0000ff"/>
<path d="M79 1151.5C80.1 1151.6 82.8 1151.5 85.4 1152C88 1152.5 91.6 1153.7 94.8 1154.5C98 1155.3 101.6 1156.5 104.7 1157C107.8 1157.5 109.7 1157.7 113.4 1157.5C117.1 1157.3 121.1 1156.4 127.1 1155.8C133.1 1155.2 142.3 1154.3 149.4 1153.8C156.5 1153.2 164 1153.1 169.8 1152.5C175.6 1151.9 180.1 1150.8 184.2 1150.3C188.2 1149.8 190 1150.5 194.1 1149.6C198.2 1148.6 204.7 1145.9 209 1144.6C213.3 1143.2 216.8 1142.5 220 1141.5C223.2 1140.5 225.3 1139.3 228 1138.5C230.7 1137.7 233.3 1137.1 236 1136.6C238.7 1136.1 241.1 1135.4 244 1135.3C246.9 1135.2 250.1 1135.3 253.5 1135.9C256.9 1136.5 260.8 1137.8 264.7 1139.1C268.6 1140.3 272.1 1141.7 277.1 1143.4C282.1 1145.2 288.3 1147.8 294.5 1149.6C300.7 1151.4 307.3 1152.8 314.3 1154C321.3 1155.2 329.2 1155.9 336.7 1156.5C344.1 1157.1 352 1157.2 359 1157.5C366 1157.8 372.8 1158.5 378.8 1158.3C384.8 1158.1 390.1 1156.9 394.8 1156.5C399.5 1156.1 403.5 1155.7 407.2 1155.8C410.9 1155.9 411 1156.4 417.2 1157C423.4 1157.6 435.8 1158.8 444.5 1159.5C453.2 1160.2 459.9 1161 469.3 1161.5C478.7 1162 489 1162.2 500.8 1162.5C512.6 1162.8 526 1163.2 540 1163.5C554 1163.8 569.8 1163.8 585 1164C600.2 1164.2 623.3 1164.4 631 1164.5" fill="none" stroke="#b070e0" stroke-width="2.7" stroke-linejoin="round"/>
<polygon points="86.1,1144.3 93.6,1152 86.1,1159.7 78.6,1152" fill="#00ffff"/>
<polygon points="169.8,1144.8 177.3,1152.5 169.8,1160.2 162.3,1152.5" fill="#00ffff"/>
<polygon points="253.6,1128.4 261.1,1136.1 253.6,1143.8 246.1,1136.1" fill="#00ffff"/>
<polygon points="337.5,1149.6 345,1157.3 337.5,1165 330,1157.3" fill="#00ffff"/>
<polygon points="417.6,1150.4 425.1,1158.1 417.6,1165.8 410.1,1158.1" fill="#00ffff"/>
<polygon points="501.3,1154.8 508.8,1162.5 501.3,1170.2 493.8,1162.5" fill="#00ffff"/>
<polygon points="585.3,1156.3 592.8,1164 585.3,1171.7 577.8,1164" fill="#00ffff"/>
<polygon points="631,1156.8 638.5,1164.5 631,1172.2 623.5,1164.5" fill="#00ffff"/>
<path d="M79 1124.3L80.6 1124.9L82.2 1125.1L83.8 1125.5L85.4 1125.3L87 1125.5L88.6 1125.5L90.2 1125.7L91.8 1126.3L93.4 1126.2L95 1126.8L96.6 1126.9L98.2 1127.2L99.8 1127.7L101.4 1128.1L103 1128.1L104.6 1127.8L106.2 1128.1L107.8 1128.2L109.4 1128.8L111 1128.9L112.6 1128.7L114.2 1128.5L115.8 1128.2L117.4 1128.1L119 1127.7L120.6 1127.1L122.2 1127.3L123.8 1126.8L125.4 1126.8L127 1126.5L128.6 1126.2L130.2 1125.9L131.8 1125.8L133.4 1125.5L135 1125.2L136.6 1125.5L138.2 1125.3L139.8 1125.2L141.4 1124.8L143 1124.5L144.6 1124.5L146.2 1123.8L147.8 1124L149.4 1123.7L151 1123.3L152.6 1123.1L154.2 1123.2L155.8 1122.8L157.4 1122.7L159 1122.7L160.6 1122.3L162.2 1121.9L163.8 1122L165.4 1121.6L167 1121.4L168.6 1121.2L170.2 1121.1L171.8 1120.7L173.4 1120.9L175 1120.9L176.6 1120.2L178.2 1120.2L179.8 1120.2L181.4 1119.3L183 1119.1L184.6 1119.4L186.2 1119.2L187.8 1118.8L189.4 1118.2L191 1118.2L192.6 1118.3L194.2 1118.1L195.8 1117.8L197.4 1117.1L199 1117.4L200.6 1116.8L202.2 1116.8L203.8 1116.2L205.4 1116.5L207 1116.1L208.6 1115.9L210.2 1115.3L211.8 1115.4L213.4 1115.1L215 1114.9L216.6 1114.5L218.2 1114.6L219.8 1114L221.4 1113.8L223 1113.4L224.6 1113.5L226.2 1112.9L227.8 1112.7L229.4 1112.4L231 1112.5L232.6 1112.2L234.2 1111.9L235.8 1111.4L237.4 1111.5L239 1111.3L240.6 1110.9L242.2 1110.7L243.8 1111.2L245.4 1110.5L247 1110.4L248.6 1110.2L250.2 1110.3L251.8 1109.8L253.4 1109.9L255 1109.7L256.6 1109.9L258.2 1109.2L259.8 1109.3L261.4 1109.3L263 1109.5L264.6 1109L266.2 1108.9L267.8 1108.9L269.4 1108.5L271 1108.2L272.6 1108.5L274.2 1108.8L275.8 1108.6L277.4 1108.3L279 1108.5L280.6 1108.6L282.2 1108.2L283.8 1108.4L285.4 1108.2L287 1108.1L288.6 1108.1L290.2 1108L291.8 1108L293.4 1107.8L295 1108L296.6 1107.9L298.2 1108.4L299.8 1108.3L301.4 1107.9L303 1108.5L304.6 1108.1L306.2 1108.3L307.8 1108.4L309.4 1108.3L311 1108.3L312.6 1108.4L314.2 1108.2L315.8 1108.8L317.4 1108.3L319 1108.8L320.6 1108.4L322.2 1108.3L323.8 1108.3L325.4 1108L327 1108L328.6 1108.1L330.2 1108.1L331.8 1108.4L333.4 1108.4L335 1107.6L336.6 1107.9L338.2 1107.4L339.8 1107.7L341.4 1107.1L343 1107.3L344.6 1107L346.2 1106.8L347.8 1106.9L349.4 1107.3L351 1108L352.6 1107.9L354.2 1108.4L355.8 1108.7L357.4 1109L359 1109.6L360.6 1109.3L362.2 1109.7L363.8 1109.7L365.4 1109.9L367 1109.7L368.6 1110L370.2 1109.7L371.8 1109.9L373.4 1110L375 1110.1L376.6 1110.1L378.2 1109.5L379.8 1109.5L381.4 1109.7L383 1109.8L384.6 1109.6L386.2 1109.4L387.8 1109.8L389.4 1109.3L391 1109.1L392.6 1109.1L394.2 1109.1L395.8 1109.6L397.4 1109.1L399 1109.6L400.6 1109.7L402.2 1109.7L403.8 1109.6L405.4 1109.3L407 1109.5L408.6 1109.6L410.2 1109.6L411.8 1109.3L413.4 1109.6L415 1109.1L416.6 1109.3L418.2 1109.8L419.8 1109.4L421.4 1109.3L423 1109.7L424.6 1109.6L426.2 1109.3L427.8 1109.3L429.4 1109.5L431 1109.6L432.6 1110.1L434.2 1109.7L435.8 1110.1L437.4 1110.2L439 1109.9L440.6 1110.3L442.2 1110.2L443.8 1110.1L445.4 1109.9L447 1110.1L448.6 1110.5L450.2 1110.3L451.8 1110.1L453.4 1110.2L455 1110.3L456.6 1110.2L458.2 1110.4L459.8 1110L461.4 1110.6L463 1110.1L464.6 1110L466.2 1110.4L467.8 1110.1L469.4 1110.5L471 1110.2L472.6 1110.2L474.2 1110.4L475.8 1110L477.4 1110.3L479 1110.3L480.6 1110.1L482.2 1110.4L483.8 1109.8L485.4 1110.3L487 1109.8L488.6 1110.3L490.2 1109.8L491.8 1109.7L493.4 1110L495 1110.3L496.6 1109.8L498.2 1109.9L499.8 1110L501.4 1109.8L503 1110.1L504.6 1109.8L506.2 1110.2L507.8 1110.5L509.4 1110.4L511 1110.4L512.6 1110.4L514.2 1110.9L515.8 1110.8L517.4 1111.3L519 1111.3L520.6 1110.8L522.2 1111.3L523.8 1111.3L525.4 1111.1L527 1111.1L528.6 1111L530.2 1110.9L531.8 1110.9L533.4 1110.8L535 1110.5L536.6 1110.3L538.2 1110.7L539.8 1110.6L541.4 1110.2L543 1110.7L544.6 1110.8L546.2 1110.8L547.8 1111L549.4 1111.1L551 1110.9L552.6 1111.2L554.2 1111.1L555.8 1111.2L557.4 1111.1L559 1111.6L560.6 1111.2L562.2 1111.5L563.8 1111L565.4 1111.1L567 1111.2L568.6 1111L570.2 1110.7L571.8 1110.4L573.4 1110.6L575 1110.4L576.6 1110.6L578.2 1110.7L579.8 1111L581.4 1110.7L583 1110.8L584.6 1111L586.2 1111.3L587.8 1110.9L589.4 1111.1L591 1111.2L592.6 1111.5L594.2 1111.6L595.8 1112.2L597.4 1111.7L599 1112.4L600.6 1112L602.2 1112.1L603.8 1112.7L605.4 1112.1L607 1112.1L608.6 1112.2L610.2 1112.1L611.8 1112.4L613.4 1112.3L615 1112.3L616.6 1112.2L618.2 1112.7L619.8 1112.3L621.4 1112.4L623 1112.7L624.6 1113L626.2 1112.8L627.8 1112.9L629.4 1112.9" fill="none" stroke="#c8961a" stroke-width="2.7" stroke-linejoin="round"/>
<polygon points="78,1125.5 91,1118.3 91,1132.7" fill="#ff00ff"/>
<polygon points="162.2,1121.8 175.2,1114.6 175.2,1129" fill="#ff00ff"/>
<polygon points="245.1,1109.9 258.1,1102.7 258.1,1117.1" fill="#ff00ff"/>
<polygon points="328.9,1107.9 341.9,1100.7 341.9,1115.1" fill="#ff00ff"/>
<polygon points="409.1,1109.4 422.1,1102.2 422.1,1116.6" fill="#ff00ff"/>
<polygon points="492.7,1110.4 505.7,1103.2 505.7,1117.6" fill="#ff00ff"/>
<polygon points="576.5,1111.1 589.5,1103.9 589.5,1118.3" fill="#ff00ff"/>
<polygon points="622.1,1112.8 635.1,1105.6 635.1,1120" fill="#ff00ff"/>
</g>
<line x1="341.9" y1="1108.5" x2="341.9" y2="1123" stroke="#000" stroke-width="1.7" stroke-linecap="butt"/>
<polygon points="341.9,1134.5 338.7,1122 345.1,1122" fill="#000"/>
<line x1="241.9" y1="1136" x2="238.7" y2="1150.2" stroke="#000" stroke-width="1.7" stroke-linecap="butt"/>
<polygon points="236.2,1161.4 235.8,1148.5 242.1,1149.9" fill="#000"/>
<line x1="345.5" y1="1172.8" x2="351.7" y2="1187.1" stroke="#000" stroke-width="1.7" stroke-linecap="butt"/>
<polygon points="356.3,1197.7 348.4,1187.5 354.3,1185" fill="#000"/>
<line x1="243.6" y1="1204.5" x2="237.9" y2="1228.2" stroke="#000" stroke-width="1.7" stroke-linecap="butt"/>
<polygon points="235.2,1239.4 235,1226.5 241.2,1228" fill="#000"/>
<line x1="525.9" y1="1176" x2="525.9" y2="1191.5" stroke="#000" stroke-width="1.7" stroke-linecap="butt"/>
<polygon points="525.9,1203 522.7,1190.5 529.1,1190.5" fill="#000"/>
<line x1="573.3" y1="1176" x2="573.3" y2="1192.1" stroke="#000" stroke-width="1.7" stroke-linecap="butt"/>
<polygon points="573.3,1203.6 570.1,1191.1 576.5,1191.1" fill="#000"/>
<text transform="translate(325.5 1145.1)" font-family='"Liberation Serif", serif' font-size="14.4" font-weight="normal" text-anchor="start" fill="#111" textLength="30.5" lengthAdjust="spacingAndGlyphs" >57.42</text>
<text transform="translate(221.2 1172.4)" font-family='"Liberation Serif", serif' font-size="14.4" font-weight="normal" text-anchor="start" fill="#111" textLength="31" lengthAdjust="spacingAndGlyphs" >23.96</text>
<text transform="translate(345.5 1209.9)" font-family='"Liberation Serif", serif' font-size="14.4" font-weight="normal" text-anchor="start" fill="#111" textLength="31.2" lengthAdjust="spacingAndGlyphs" >35.83</text>
<text transform="translate(214 1255.3)" font-family='"Liberation Serif", serif' font-size="14.4" font-weight="normal" text-anchor="start" fill="#111" textLength="31.2" lengthAdjust="spacingAndGlyphs" >23.86</text>
<text transform="translate(265.9 1233.7)" font-family='"Liberation Serif", serif' font-size="14.4" font-weight="normal" text-anchor="start" fill="#111" textLength="31.4" lengthAdjust="spacingAndGlyphs" >28.29</text>
<text transform="translate(366.9 1264.7)" font-family='"Liberation Serif", serif' font-size="14.4" font-weight="normal" text-anchor="start" fill="#111" textLength="31" lengthAdjust="spacingAndGlyphs" >40.49</text>
<text transform="translate(454.9 1286.5)" font-family='"Liberation Serif", serif' font-size="14.4" font-weight="normal" text-anchor="start" fill="#111" textLength="31" lengthAdjust="spacingAndGlyphs" >50.22</text>
<text transform="translate(521.2 1292.5)" font-family='"Liberation Serif", serif' font-size="14.4" font-weight="normal" text-anchor="start" fill="#111" textLength="31.4" lengthAdjust="spacingAndGlyphs" >58.53</text>
<text transform="translate(579 1289)" font-family='"Liberation Serif", serif' font-size="14.4" font-weight="normal" text-anchor="start" fill="#111" textLength="31.4" lengthAdjust="spacingAndGlyphs" >66.37</text>
<text transform="translate(507.8 1215.6)" font-family='"Liberation Serif", serif' font-size="14.4" font-weight="normal" text-anchor="start" fill="#111" textLength="23.8" lengthAdjust="spacingAndGlyphs" >57.4</text>
<text transform="translate(557.2 1219.4)" font-family='"Liberation Serif", serif' font-size="14.4" font-weight="normal" text-anchor="start" fill="#111" textLength="31" lengthAdjust="spacingAndGlyphs" >35.83</text>
<line x1="72.3" y1="1024.4" x2="632" y2="1024.4" stroke="#000" stroke-width="2.0" stroke-linecap="butt"/>
<line x1="76.1" y1="1374.8" x2="632" y2="1374.8" stroke="#000" stroke-width="2.0" stroke-linecap="butt"/>
<line x1="79.2" y1="1023.4" x2="79.2" y2="1375.8" stroke="#000" stroke-width="2.1" stroke-linecap="butt"/>
<line x1="631" y1="1023.4" x2="631" y2="1381.8" stroke="#000" stroke-width="2.1" stroke-linecap="butt"/>
<line x1="72.3" y1="1071.2" x2="79.2" y2="1071.2" stroke="#000" stroke-width="2.0" stroke-linecap="butt"/>
<line x1="72.3" y1="1118" x2="79.2" y2="1118" stroke="#000" stroke-width="2.0" stroke-linecap="butt"/>
<line x1="72.3" y1="1164.8" x2="79.2" y2="1164.8" stroke="#000" stroke-width="2.0" stroke-linecap="butt"/>
<line x1="72.3" y1="1211.6" x2="79.2" y2="1211.6" stroke="#000" stroke-width="2.0" stroke-linecap="butt"/>
<line x1="72.3" y1="1258.4" x2="79.2" y2="1258.4" stroke="#000" stroke-width="2.0" stroke-linecap="butt"/>
<line x1="72.3" y1="1305.2" x2="79.2" y2="1305.2" stroke="#000" stroke-width="2.0" stroke-linecap="butt"/>
<line x1="72.3" y1="1352" x2="79.2" y2="1352" stroke="#000" stroke-width="2.0" stroke-linecap="butt"/>
<line x1="74.8" y1="1047.8" x2="79.2" y2="1047.8" stroke="#000" stroke-width="2.0" stroke-linecap="butt"/>
<line x1="74.8" y1="1094.6" x2="79.2" y2="1094.6" stroke="#000" stroke-width="2.0" stroke-linecap="butt"/>
<line x1="74.8" y1="1141.4" x2="79.2" y2="1141.4" stroke="#000" stroke-width="2.0" stroke-linecap="butt"/>
<line x1="74.8" y1="1188.2" x2="79.2" y2="1188.2" stroke="#000" stroke-width="2.0" stroke-linecap="butt"/>
<line x1="74.8" y1="1235" x2="79.2" y2="1235" stroke="#000" stroke-width="2.0" stroke-linecap="butt"/>
<line x1="74.8" y1="1281.8" x2="79.2" y2="1281.8" stroke="#000" stroke-width="2.0" stroke-linecap="butt"/>
<line x1="74.8" y1="1328.6" x2="79.2" y2="1328.6" stroke="#000" stroke-width="2.0" stroke-linecap="butt"/>
<line x1="127.6" y1="1374.8" x2="127.6" y2="1381.8" stroke="#000" stroke-width="2.0" stroke-linecap="butt"/>
<text transform="translate(128.2 1400.1)" font-family='"Liberation Serif", serif' font-size="14.6" font-weight="normal" text-anchor="middle" fill="#111" >10</text>
<line x1="211.5" y1="1374.8" x2="211.5" y2="1381.8" stroke="#000" stroke-width="2.0" stroke-linecap="butt"/>
<text transform="translate(212.1 1400.1)" font-family='"Liberation Serif", serif' font-size="14.6" font-weight="normal" text-anchor="middle" fill="#111" >20</text>
<line x1="295.4" y1="1374.8" x2="295.4" y2="1381.8" stroke="#000" stroke-width="2.0" stroke-linecap="butt"/>
<text transform="translate(296 1400.1)" font-family='"Liberation Serif", serif' font-size="14.6" font-weight="normal" text-anchor="middle" fill="#111" >30</text>
<line x1="379.2" y1="1374.8" x2="379.2" y2="1381.8" stroke="#000" stroke-width="2.0" stroke-linecap="butt"/>
<text transform="translate(379.8 1400.1)" font-family='"Liberation Serif", serif' font-size="14.6" font-weight="normal" text-anchor="middle" fill="#111" >40</text>
<line x1="463.1" y1="1374.8" x2="463.1" y2="1381.8" stroke="#000" stroke-width="2.0" stroke-linecap="butt"/>
<text transform="translate(463.7 1400.1)" font-family='"Liberation Serif", serif' font-size="14.6" font-weight="normal" text-anchor="middle" fill="#111" >50</text>
<line x1="547" y1="1374.8" x2="547" y2="1381.8" stroke="#000" stroke-width="2.0" stroke-linecap="butt"/>
<text transform="translate(547.6 1400.1)" font-family='"Liberation Serif", serif' font-size="14.6" font-weight="normal" text-anchor="middle" fill="#111" >60</text>
<text transform="translate(631.5 1400.1)" font-family='"Liberation Serif", serif' font-size="14.6" font-weight="normal" text-anchor="middle" fill="#111" >70</text>
<line x1="85.7" y1="1374.8" x2="85.7" y2="1378.8" stroke="#000" stroke-width="2.0" stroke-linecap="butt"/>
<line x1="169.5" y1="1374.8" x2="169.5" y2="1378.8" stroke="#000" stroke-width="2.0" stroke-linecap="butt"/>
<line x1="253.4" y1="1374.8" x2="253.4" y2="1378.8" stroke="#000" stroke-width="2.0" stroke-linecap="butt"/>
<line x1="337.3" y1="1374.8" x2="337.3" y2="1378.8" stroke="#000" stroke-width="2.0" stroke-linecap="butt"/>
<line x1="421.2" y1="1374.8" x2="421.2" y2="1378.8" stroke="#000" stroke-width="2.0" stroke-linecap="butt"/>
<line x1="505.1" y1="1374.8" x2="505.1" y2="1378.8" stroke="#000" stroke-width="2.0" stroke-linecap="butt"/>
<line x1="588.9" y1="1374.8" x2="588.9" y2="1378.8" stroke="#000" stroke-width="2.0" stroke-linecap="butt"/>
<text transform="translate(64.2 1251.3) rotate(-90)" font-family='"Liberation Serif", serif' font-size="19.4" font-weight="normal" text-anchor="start" fill="#111" textLength="113" lengthAdjust="spacingAndGlyphs" >Intensity (a.u.)</text>
<text transform="translate(339 1422.6)" font-family='"Liberation Serif", serif' font-size="20" font-weight="normal" text-anchor="start" fill="#111" >2&#952;<tspan dy="-7" font-size="15">o</tspan></text>
<line x1="83.5" y1="1039.4" x2="126.4" y2="1039.4" stroke="#c8961a" stroke-width="2.7" stroke-linecap="round"/>
<polygon points="97,1039.4 110,1032.1 110,1046.7" fill="#ff00ff"/>
<text transform="translate(131.4 1044.9)" font-family='"Liberation Serif", serif' font-size="18.1" font-weight="normal" text-anchor="start" fill="#111" >Maganetic biocghar 800 <tspan dy="-6.3" font-size="13.6">o</tspan><tspan dy="6.3">C</tspan> ,</text>
<line x1="83.5" y1="1064" x2="126.4" y2="1064" stroke="#35a862" stroke-width="2.7" stroke-linecap="round"/>
<polygon points="105.1,1072.8 112.3,1059.6 97.9,1059.6" fill="#0000ff"/>
<text transform="translate(131.4 1069.6)" font-family='"Liberation Serif", serif' font-size="18.1" font-weight="normal" text-anchor="start" fill="#111" >Maganetic biocghar 600 <tspan dy="-6.3" font-size="13.6">o</tspan><tspan dy="6.3">C</tspan> ,</text>
<line x1="83.5" y1="1088.8" x2="126.4" y2="1088.8" stroke="#ee3f40" stroke-width="2.7" stroke-linecap="round"/>
<circle cx="105.1" cy="1088.8" r="6.3" fill="#ff0000"/>
<text transform="translate(131.4 1094.4)" font-family='"Liberation Serif", serif' font-size="18.1" font-weight="normal" text-anchor="start" fill="#111" >ANHB 800 <tspan dy="-6.3" font-size="13.6">o</tspan><tspan dy="6.3">C</tspan> ,</text>
<line x1="343.4" y1="1039.4" x2="386.4" y2="1039.4" stroke="#b070e0" stroke-width="2.7" stroke-linecap="round"/>
<polygon points="365,1031.7 372.5,1039.4 365,1047.1 357.5,1039.4" fill="#00ffff"/>
<text transform="translate(391.3 1044.9)" font-family='"Liberation Serif", serif' font-size="18.1" font-weight="normal" text-anchor="start" fill="#111" >Acid modified  biochar 800 <tspan dy="-6.3" font-size="13.6">o</tspan><tspan dy="6.3">C</tspan></text>
<line x1="343.4" y1="1064" x2="386.4" y2="1064" stroke="#1e6ee0" stroke-width="2.7" stroke-linecap="round"/>
<polygon points="365,1055.2 372.2,1068.4 357.8,1068.4" fill="#00ff00"/>
<text transform="translate(391.3 1069.6)" font-family='"Liberation Serif", serif' font-size="18.1" font-weight="normal" text-anchor="start" fill="#111" >Acid modified  biochar 600 <tspan dy="-6.3" font-size="13.6">o</tspan><tspan dy="6.3">C</tspan></text>
<line x1="343.4" y1="1088.8" x2="386.4" y2="1088.8" stroke="#4a4a4a" stroke-width="2.7" stroke-linecap="round"/>
<rect x="359.7" y="1083.5" width="10.6" height="10.6" fill="#000"/>
<text transform="translate(391.3 1094.4)" font-family='"Liberation Serif", serif' font-size="18.1" font-weight="normal" text-anchor="start" fill="#111" >ANHB 600 <tspan dy="-6.3" font-size="13.6">o</tspan><tspan dy="6.3">C</tspan></text>
<text transform="translate(342.4 1467.6)" font-family='"Liberation Serif", serif' font-size="26.5" font-weight="normal" text-anchor="middle" fill="#111" >(c)</text>
</g>
</svg></body></html>
